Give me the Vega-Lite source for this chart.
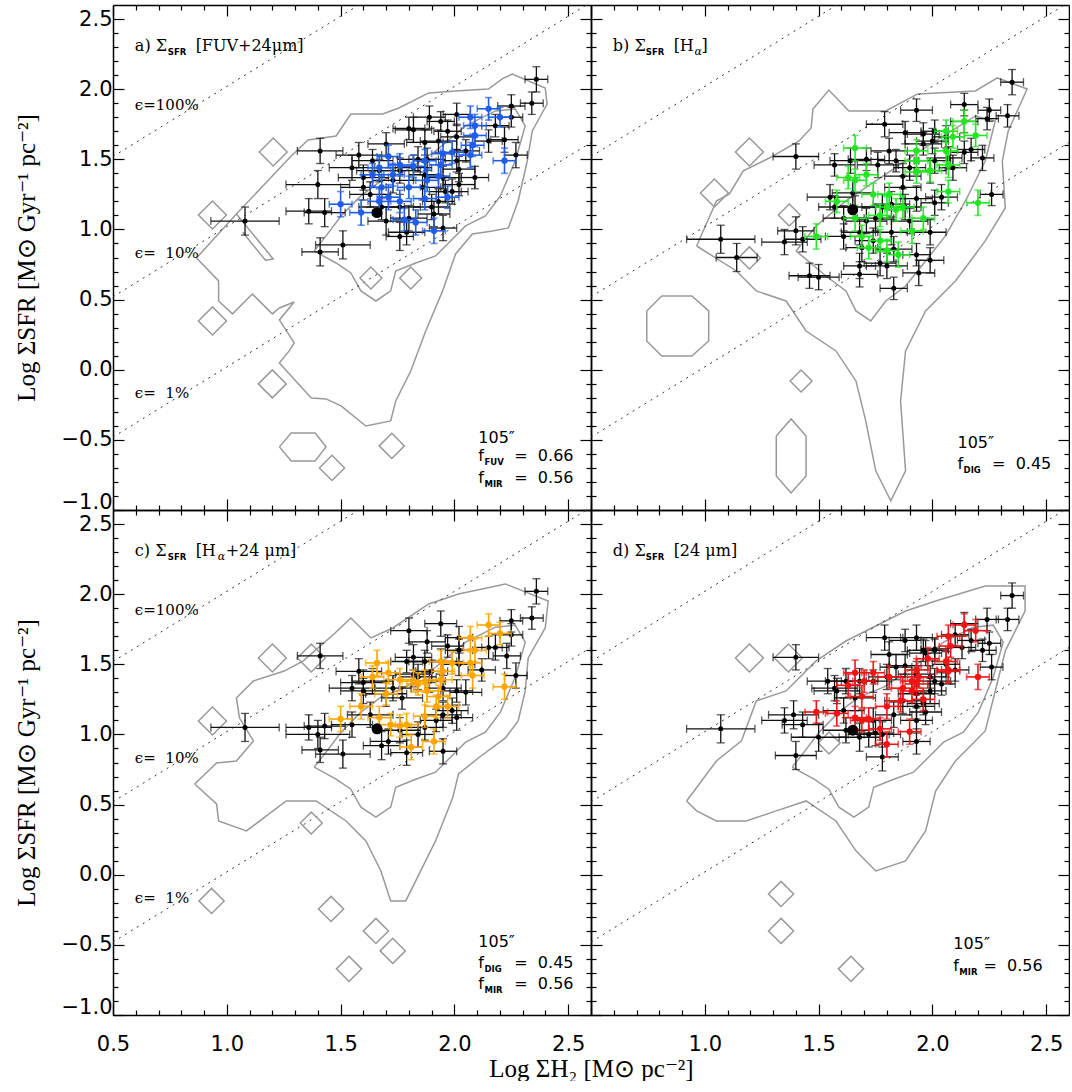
{
"$schema":"https://vega.github.io/schema/vega-lite/v6.json",
"background":"white",
"padding":{"left":14,"top":4,"right":0,"bottom":0},
"columns":2,"spacing":0,"bounds":"flush",
"config":{"view":{"stroke":null},
 "axis":{"grid":false,"tickColor":"black","tickWidth":1.2,"domainColor":"black","domainWidth":1.5,"labelFont":"DejaVu Sans","labelFontSize":21,"labelColor":"black","labelFlush":false,"labelOverlap":false,"labelBound":false,"titleFont":"Liberation Serif","titleFontSize":25,"titleFontWeight":"normal","titleColor":"black"}},
"datasets":{
"eps":[{"l":"100","x":0.5,"y":1.52},{"l":"100","x":2.6,"y":3.62},{"l":"10","x":0.5,"y":0.52},{"l":"10","x":2.6,"y":2.62},{"l":"1","x":0.5,"y":-0.48},{"l":"1","x":2.6,"y":1.62}],
"dm":[
{"p":"a","s":"L","x":0.937,"y":1.103},{"p":"a","s":"L","x":1.204,"y":1.552},{"p":"a","s":"L","x":0.937,"y":0.348},{"p":"a","s":"L","x":1.2,"y":-0.101},{"p":"a","s":"M","x":1.462,"y":-0.7},{"p":"a","s":"M","x":1.725,"y":-0.543},{"p":"a","s":"S","x":1.633,"y":0.654},{"p":"a","s":"S","x":1.808,"y":0.654},
{"p":"b","s":"L","x":1.196,"y":1.552},{"p":"b","s":"L","x":1.042,"y":1.26},{"p":"b","s":"S","x":1.371,"y":1.103},{"p":"b","s":"S","x":1.196,"y":0.797},{"p":"b","s":"S","x":1.423,"y":-0.08},
{"p":"c","s":"L","x":1.2,"y":1.545},{"p":"c","s":"L","x":1.371,"y":1.545},{"p":"c","s":"L","x":0.937,"y":1.096},{"p":"c","s":"M","x":0.933,"y":-0.187},{"p":"c","s":"S","x":1.371,"y":0.369},{"p":"c","s":"M","x":1.458,"y":-0.244},{"p":"c","s":"M","x":1.655,"y":-0.401},{"p":"c","s":"M","x":1.729,"y":-0.543},{"p":"c","s":"M","x":1.537,"y":-0.671},
{"p":"d","s":"L","x":1.196,"y":1.545},{"p":"d","s":"L","x":1.367,"y":1.545},{"p":"d","s":"M","x":1.335,"y":-0.137},{"p":"d","s":"M","x":1.335,"y":-0.401},{"p":"d","s":"M","x":1.642,"y":-0.671},{"p":"d","s":"S","x":1.546,"y":0.939}],
"cont":[
{"p":"a","g":"a1","o":1,"x":0.867,"y":0.797},{"p":"a","g":"a1","o":2,"x":1.042,"y":1.11},{"p":"a","g":"a1","o":3,"x":1.283,"y":1.524},{"p":"a","g":"a1","o":4,"x":1.357,"y":1.638},{"p":"a","g":"a1","o":5,"x":1.48,"y":1.666},{"p":"a","g":"a1","o":6,"x":1.545,"y":1.823},{"p":"a","g":"a1","o":7,"x":1.685,"y":1.823},{"p":"a","g":"a1","o":8,"x":1.756,"y":1.866},{"p":"a","g":"a1","o":9,"x":1.887,"y":1.973},{"p":"a","g":"a1","o":10,"x":2.005,"y":1.987},{"p":"a","g":"a1","o":11,"x":2.149,"y":2.001},{"p":"a","g":"a1","o":12,"x":2.21,"y":2.073},{"p":"a","g":"a1","o":13,"x":2.254,"y":2.108},{"p":"a","g":"a1","o":14,"x":2.399,"y":2.008},{"p":"a","g":"a1","o":15,"x":2.407,"y":1.894},{"p":"a","g":"a1","o":16,"x":2.342,"y":1.702},{"p":"a","g":"a1","o":17,"x":2.32,"y":1.488},{"p":"a","g":"a1","o":18,"x":2.28,"y":1.203},{"p":"a","g":"a1","o":19,"x":2.237,"y":1.011},{"p":"a","g":"a1","o":20,"x":2.167,"y":0.989},{"p":"a","g":"a1","o":21,"x":2.079,"y":0.968},{"p":"a","g":"a1","o":22,"x":2.005,"y":0.825},{"p":"a","g":"a1","o":23,"x":1.948,"y":0.562},{"p":"a","g":"a1","o":24,"x":1.874,"y":0.276},{"p":"a","g":"a1","o":25,"x":1.808,"y":-0.009},{"p":"a","g":"a1","o":26,"x":1.742,"y":-0.223},{"p":"a","g":"a1","o":27,"x":1.72,"y":-0.365},{"p":"a","g":"a1","o":28,"x":1.611,"y":-0.401},{"p":"a","g":"a1","o":29,"x":1.502,"y":-0.258},{"p":"a","g":"a1","o":30,"x":1.436,"y":-0.208},{"p":"a","g":"a1","o":31,"x":1.371,"y":-0.201},{"p":"a","g":"a1","o":32,"x":1.231,"y":0.048},{"p":"a","g":"a1","o":33,"x":1.274,"y":0.134},{"p":"a","g":"a1","o":34,"x":1.296,"y":0.191},{"p":"a","g":"a1","o":35,"x":1.231,"y":0.355},{"p":"a","g":"a1","o":36,"x":1.296,"y":0.483},{"p":"a","g":"a1","o":37,"x":1.231,"y":0.44},{"p":"a","g":"a1","o":38,"x":1.2,"y":0.398},{"p":"a","g":"a1","o":39,"x":1.112,"y":0.54},{"p":"a","g":"a1","o":40,"x":1.025,"y":0.398},{"p":"a","g":"a1","o":41,"x":0.964,"y":0.49},{"p":"a","g":"a1","o":42,"x":0.964,"y":0.633},{"p":"a","g":"a1","o":43,"x":0.867,"y":0.797},
{"p":"a","g":"a2","o":1,"x":1.384,"y":0.847},{"p":"a","g":"a2","o":2,"x":1.436,"y":0.954},{"p":"a","g":"a2","o":3,"x":1.502,"y":1.096},{"p":"a","g":"a2","o":4,"x":1.589,"y":1.239},{"p":"a","g":"a2","o":5,"x":1.677,"y":1.346},{"p":"a","g":"a2","o":6,"x":1.786,"y":1.417},{"p":"a","g":"a2","o":7,"x":1.917,"y":1.559},{"p":"a","g":"a2","o":8,"x":2.049,"y":1.738},{"p":"a","g":"a2","o":9,"x":2.18,"y":1.845},{"p":"a","g":"a2","o":10,"x":2.267,"y":1.859},{"p":"a","g":"a2","o":11,"x":2.311,"y":1.738},{"p":"a","g":"a2","o":12,"x":2.267,"y":1.488},{"p":"a","g":"a2","o":13,"x":2.202,"y":1.239},{"p":"a","g":"a2","o":14,"x":2.136,"y":1.096},{"p":"a","g":"a2","o":15,"x":2.049,"y":1.025},{"p":"a","g":"a2","o":16,"x":1.983,"y":0.918},{"p":"a","g":"a2","o":17,"x":1.917,"y":0.811},{"p":"a","g":"a2","o":18,"x":1.83,"y":0.761},{"p":"a","g":"a2","o":19,"x":1.742,"y":0.704},{"p":"a","g":"a2","o":20,"x":1.72,"y":0.562},{"p":"a","g":"a2","o":21,"x":1.655,"y":0.49},{"p":"a","g":"a2","o":22,"x":1.589,"y":0.562},{"p":"a","g":"a2","o":23,"x":1.545,"y":0.69},{"p":"a","g":"a2","o":24,"x":1.48,"y":0.761},{"p":"a","g":"a2","o":25,"x":1.384,"y":0.847},
{"p":"a","g":"a3","o":1,"x":1.231,"y":-0.55},{"p":"a","g":"a3","o":2,"x":1.283,"y":-0.451},{"p":"a","g":"a3","o":3,"x":1.388,"y":-0.451},{"p":"a","g":"a3","o":4,"x":1.436,"y":-0.55},{"p":"a","g":"a3","o":5,"x":1.388,"y":-0.65},{"p":"a","g":"a3","o":6,"x":1.283,"y":-0.65},{"p":"a","g":"a3","o":7,"x":1.231,"y":-0.55},
{"p":"a","g":"a4","o":1,"x":1.042,"y":1.11},{"p":"a","g":"a4","o":2,"x":1.204,"y":0.79},{"p":"a","g":"a4","o":3,"x":1.17,"y":0.78},{"p":"a","g":"a4","o":4,"x":1.07,"y":0.98},
{"p":"b","g":"b1","o":1,"x":0.964,"y":0.882},{"p":"b","g":"b1","o":2,"x":1.051,"y":1.203},{"p":"b","g":"b1","o":3,"x":1.108,"y":1.253},{"p":"b","g":"b1","o":4,"x":1.169,"y":1.417},{"p":"b","g":"b1","o":5,"x":1.283,"y":1.509},{"p":"b","g":"b1","o":6,"x":1.414,"y":1.631},{"p":"b","g":"b1","o":7,"x":1.467,"y":1.723},{"p":"b","g":"b1","o":8,"x":1.475,"y":1.859},{"p":"b","g":"b1","o":9,"x":1.545,"y":1.994},{"p":"b","g":"b1","o":10,"x":1.633,"y":1.845},{"p":"b","g":"b1","o":11,"x":1.795,"y":1.845},{"p":"b","g":"b1","o":12,"x":1.935,"y":1.966},{"p":"b","g":"b1","o":13,"x":2.189,"y":1.987},{"p":"b","g":"b1","o":14,"x":2.285,"y":2.08},{"p":"b","g":"b1","o":15,"x":2.416,"y":2.001},{"p":"b","g":"b1","o":16,"x":2.333,"y":1.702},{"p":"b","g":"b1","o":17,"x":2.307,"y":1.488},{"p":"b","g":"b1","o":18,"x":2.32,"y":1.153},{"p":"b","g":"b1","o":19,"x":2.232,"y":0.918},{"p":"b","g":"b1","o":20,"x":2.167,"y":0.775},{"p":"b","g":"b1","o":21,"x":2.101,"y":0.633},{"p":"b","g":"b1","o":22,"x":1.97,"y":0.419},{"p":"b","g":"b1","o":23,"x":1.882,"y":0.134},{"p":"b","g":"b1","o":24,"x":1.86,"y":-0.223},{"p":"b","g":"b1","o":25,"x":1.882,"y":-0.721},{"p":"b","g":"b1","o":26,"x":1.817,"y":-0.935},{"p":"b","g":"b1","o":27,"x":1.751,"y":-0.721},{"p":"b","g":"b1","o":28,"x":1.707,"y":-0.365},{"p":"b","g":"b1","o":29,"x":1.664,"y":-0.08},{"p":"b","g":"b1","o":30,"x":1.576,"y":0.134},{"p":"b","g":"b1","o":31,"x":1.445,"y":0.276},{"p":"b","g":"b1","o":32,"x":1.357,"y":0.49},{"p":"b","g":"b1","o":33,"x":1.226,"y":0.562},{"p":"b","g":"b1","o":34,"x":1.139,"y":0.704},{"p":"b","g":"b1","o":35,"x":0.964,"y":0.882},
{"p":"b","g":"b2","o":1,"x":1.401,"y":0.847},{"p":"b","g":"b2","o":2,"x":1.489,"y":1.025},{"p":"b","g":"b2","o":3,"x":1.62,"y":1.203},{"p":"b","g":"b2","o":4,"x":1.751,"y":1.346},{"p":"b","g":"b2","o":5,"x":1.882,"y":1.488},{"p":"b","g":"b2","o":6,"x":2.014,"y":1.631},{"p":"b","g":"b2","o":7,"x":2.189,"y":1.809},{"p":"b","g":"b2","o":8,"x":2.276,"y":1.773},{"p":"b","g":"b2","o":9,"x":2.232,"y":1.488},{"p":"b","g":"b2","o":10,"x":2.145,"y":1.203},{"p":"b","g":"b2","o":11,"x":2.057,"y":0.954},{"p":"b","g":"b2","o":12,"x":1.97,"y":0.775},{"p":"b","g":"b2","o":13,"x":1.882,"y":0.597},{"p":"b","g":"b2","o":14,"x":1.795,"y":0.49},{"p":"b","g":"b2","o":15,"x":1.729,"y":0.348},{"p":"b","g":"b2","o":16,"x":1.664,"y":0.419},{"p":"b","g":"b2","o":17,"x":1.62,"y":0.562},{"p":"b","g":"b2","o":18,"x":1.532,"y":0.668},{"p":"b","g":"b2","o":19,"x":1.401,"y":0.847},
{"p":"b","g":"b3","o":1,"x":0.745,"y":0.419},{"p":"b","g":"b3","o":2,"x":0.811,"y":0.526},{"p":"b","g":"b3","o":3,"x":0.943,"y":0.526},{"p":"b","g":"b3","o":4,"x":1.017,"y":0.419},{"p":"b","g":"b3","o":5,"x":1.017,"y":0.205},{"p":"b","g":"b3","o":6,"x":0.943,"y":0.098},{"p":"b","g":"b3","o":7,"x":0.811,"y":0.098},{"p":"b","g":"b3","o":8,"x":0.745,"y":0.205},{"p":"b","g":"b3","o":9,"x":0.745,"y":0.419},
{"p":"b","g":"b4","o":1,"x":1.314,"y":-0.472},{"p":"b","g":"b4","o":2,"x":1.379,"y":-0.351},{"p":"b","g":"b4","o":3,"x":1.445,"y":-0.472},{"p":"b","g":"b4","o":4,"x":1.445,"y":-0.757},{"p":"b","g":"b4","o":5,"x":1.379,"y":-0.878},{"p":"b","g":"b4","o":6,"x":1.314,"y":-0.757},{"p":"b","g":"b4","o":7,"x":1.314,"y":-0.472},
{"p":"c","g":"c1","o":1,"x":0.859,"y":0.647},{"p":"c","g":"c1","o":2,"x":0.955,"y":0.797},{"p":"c","g":"c1","o":3,"x":1.042,"y":0.811},{"p":"c","g":"c1","o":4,"x":1.117,"y":0.954},{"p":"c","g":"c1","o":5,"x":1.056,"y":1.117},{"p":"c","g":"c1","o":6,"x":1.042,"y":1.26},{"p":"c","g":"c1","o":7,"x":1.117,"y":1.381},{"p":"c","g":"c1","o":8,"x":1.252,"y":1.452},{"p":"c","g":"c1","o":9,"x":1.336,"y":1.524},{"p":"c","g":"c1","o":10,"x":1.471,"y":1.716},{"p":"c","g":"c1","o":11,"x":1.545,"y":1.83},{"p":"c","g":"c1","o":12,"x":1.633,"y":1.688},{"p":"c","g":"c1","o":13,"x":1.729,"y":1.759},{"p":"c","g":"c1","o":14,"x":1.887,"y":1.93},{"p":"c","g":"c1","o":15,"x":2.018,"y":2.001},{"p":"c","g":"c1","o":16,"x":2.224,"y":2.073},{"p":"c","g":"c1","o":17,"x":2.412,"y":1.951},{"p":"c","g":"c1","o":18,"x":2.399,"y":1.759},{"p":"c","g":"c1","o":19,"x":2.324,"y":1.545},{"p":"c","g":"c1","o":20,"x":2.311,"y":1.31},{"p":"c","g":"c1","o":21,"x":2.28,"y":1.096},{"p":"c","g":"c1","o":22,"x":2.224,"y":0.975},{"p":"c","g":"c1","o":23,"x":2.105,"y":0.832},{"p":"c","g":"c1","o":24,"x":2.018,"y":0.718},{"p":"c","g":"c1","o":25,"x":1.992,"y":0.547},{"p":"c","g":"c1","o":26,"x":1.917,"y":0.241},{"p":"c","g":"c1","o":27,"x":1.83,"y":-0.044},{"p":"c","g":"c1","o":28,"x":1.786,"y":-0.187},{"p":"c","g":"c1","o":29,"x":1.72,"y":-0.187},{"p":"c","g":"c1","o":30,"x":1.677,"y":0.027},{"p":"c","g":"c1","o":31,"x":1.611,"y":0.241},{"p":"c","g":"c1","o":32,"x":1.524,"y":0.383},{"p":"c","g":"c1","o":33,"x":1.392,"y":0.526},{"p":"c","g":"c1","o":34,"x":1.261,"y":0.526},{"p":"c","g":"c1","o":35,"x":1.174,"y":0.419},{"p":"c","g":"c1","o":36,"x":1.086,"y":0.312},{"p":"c","g":"c1","o":37,"x":0.964,"y":0.383},{"p":"c","g":"c1","o":38,"x":0.955,"y":0.505},{"p":"c","g":"c1","o":39,"x":0.859,"y":0.647},
{"p":"c","g":"c2","o":1,"x":1.384,"y":0.767},{"p":"c","g":"c2","o":2,"x":1.436,"y":0.874},{"p":"c","g":"c2","o":3,"x":1.502,"y":1.016},{"p":"c","g":"c2","o":4,"x":1.589,"y":1.159},{"p":"c","g":"c2","o":5,"x":1.677,"y":1.266},{"p":"c","g":"c2","o":6,"x":1.786,"y":1.337},{"p":"c","g":"c2","o":7,"x":1.917,"y":1.479},{"p":"c","g":"c2","o":8,"x":2.049,"y":1.658},{"p":"c","g":"c2","o":9,"x":2.18,"y":1.765},{"p":"c","g":"c2","o":10,"x":2.267,"y":1.779},{"p":"c","g":"c2","o":11,"x":2.311,"y":1.658},{"p":"c","g":"c2","o":12,"x":2.267,"y":1.408},{"p":"c","g":"c2","o":13,"x":2.202,"y":1.159},{"p":"c","g":"c2","o":14,"x":2.136,"y":1.016},{"p":"c","g":"c2","o":15,"x":2.049,"y":0.945},{"p":"c","g":"c2","o":16,"x":1.983,"y":0.838},{"p":"c","g":"c2","o":17,"x":1.917,"y":0.731},{"p":"c","g":"c2","o":18,"x":1.83,"y":0.681},{"p":"c","g":"c2","o":19,"x":1.742,"y":0.624},{"p":"c","g":"c2","o":20,"x":1.72,"y":0.482},{"p":"c","g":"c2","o":21,"x":1.655,"y":0.41},{"p":"c","g":"c2","o":22,"x":1.589,"y":0.482},{"p":"c","g":"c2","o":23,"x":1.545,"y":0.61},{"p":"c","g":"c2","o":24,"x":1.48,"y":0.681},{"p":"c","g":"c2","o":25,"x":1.384,"y":0.767},
{"p":"d","g":"d1","o":1,"x":0.92,"y":0.526},{"p":"d","g":"d1","o":2,"x":1.051,"y":0.811},{"p":"d","g":"d1","o":3,"x":1.161,"y":0.954},{"p":"d","g":"d1","o":4,"x":1.226,"y":1.239},{"p":"d","g":"d1","o":5,"x":1.357,"y":1.31},{"p":"d","g":"d1","o":6,"x":1.489,"y":1.524},{"p":"d","g":"d1","o":7,"x":1.62,"y":1.666},{"p":"d","g":"d1","o":8,"x":1.751,"y":1.773},{"p":"d","g":"d1","o":9,"x":1.882,"y":1.88},{"p":"d","g":"d1","o":10,"x":2.014,"y":1.951},{"p":"d","g":"d1","o":11,"x":2.232,"y":2.058},{"p":"d","g":"d1","o":12,"x":2.407,"y":2.058},{"p":"d","g":"d1","o":13,"x":2.407,"y":1.88},{"p":"d","g":"d1","o":14,"x":2.32,"y":1.595},{"p":"d","g":"d1","o":15,"x":2.276,"y":1.31},{"p":"d","g":"d1","o":16,"x":2.232,"y":1.025},{"p":"d","g":"d1","o":17,"x":2.101,"y":0.811},{"p":"d","g":"d1","o":18,"x":2.014,"y":0.597},{"p":"d","g":"d1","o":19,"x":1.97,"y":0.312},{"p":"d","g":"d1","o":20,"x":1.882,"y":0.098},{"p":"d","g":"d1","o":21,"x":1.751,"y":0.027},{"p":"d","g":"d1","o":22,"x":1.664,"y":0.17},{"p":"d","g":"d1","o":23,"x":1.576,"y":0.383},{"p":"d","g":"d1","o":24,"x":1.445,"y":0.526},{"p":"d","g":"d1","o":25,"x":1.314,"y":0.455},{"p":"d","g":"d1","o":26,"x":1.182,"y":0.383},{"p":"d","g":"d1","o":27,"x":1.051,"y":0.383},{"p":"d","g":"d1","o":28,"x":0.964,"y":0.455},{"p":"d","g":"d1","o":29,"x":0.92,"y":0.526},
{"p":"d","g":"d2","o":1,"x":1.384,"y":0.767},{"p":"d","g":"d2","o":2,"x":1.436,"y":0.874},{"p":"d","g":"d2","o":3,"x":1.502,"y":1.016},{"p":"d","g":"d2","o":4,"x":1.589,"y":1.159},{"p":"d","g":"d2","o":5,"x":1.677,"y":1.266},{"p":"d","g":"d2","o":6,"x":1.786,"y":1.337},{"p":"d","g":"d2","o":7,"x":1.917,"y":1.479},{"p":"d","g":"d2","o":8,"x":2.049,"y":1.658},{"p":"d","g":"d2","o":9,"x":2.18,"y":1.765},{"p":"d","g":"d2","o":10,"x":2.267,"y":1.779},{"p":"d","g":"d2","o":11,"x":2.311,"y":1.658},{"p":"d","g":"d2","o":12,"x":2.267,"y":1.408},{"p":"d","g":"d2","o":13,"x":2.202,"y":1.159},{"p":"d","g":"d2","o":14,"x":2.136,"y":1.016},{"p":"d","g":"d2","o":15,"x":2.049,"y":0.945},{"p":"d","g":"d2","o":16,"x":1.983,"y":0.838},{"p":"d","g":"d2","o":17,"x":1.917,"y":0.731},{"p":"d","g":"d2","o":18,"x":1.83,"y":0.681},{"p":"d","g":"d2","o":19,"x":1.742,"y":0.624},{"p":"d","g":"d2","o":20,"x":1.72,"y":0.482},{"p":"d","g":"d2","o":21,"x":1.655,"y":0.41},{"p":"d","g":"d2","o":22,"x":1.589,"y":0.482},{"p":"d","g":"d2","o":23,"x":1.545,"y":0.61},{"p":"d","g":"d2","o":24,"x":1.48,"y":0.681},{"p":"d","g":"d2","o":25,"x":1.384,"y":0.767}],
"txt":[
{"p":"a","t":"m","x":0.596,"y":2.272,"s":"a) Σ"},{"p":"a","t":"u","x":0.741,"y":2.272,"s":"SFR"},{"p":"a","t":"m","x":0.863,"y":2.272,"s":"[FUV+24μm]"},
{"p":"a","t":"e","x":0.596,"y":1.85,"s":"ϵ=100%"},{"p":"a","t":"e","x":0.596,"y":0.8,"s":"ϵ=\u00a0\u00a010%"},{"p":"a","t":"e","x":0.596,"y":-0.2,"s":"ϵ=\u00a0\u00a01%"},
{"p":"a","t":"n","x":2.105,"y":-0.52,"s":"105″"},{"p":"a","t":"n","x":2.105,"y":-0.65,"s":"f"},{"p":"a","t":"u","x":2.132,"y":-0.65,"s":"FUV"},{"p":"a","t":"n","x":2.263,"y":-0.65,"s":"=\u00a0\u00a00.66"},{"p":"a","t":"n","x":2.105,"y":-0.805,"s":"f"},{"p":"a","t":"u","x":2.132,"y":-0.805,"s":"MIR"},{"p":"a","t":"n","x":2.263,"y":-0.805,"s":"=\u00a0\u00a00.56"},
{"p":"b","t":"m","x":0.596,"y":2.272,"s":"b) Σ"},{"p":"b","t":"u","x":0.741,"y":2.272,"s":"SFR"},{"p":"b","t":"m","x":0.863,"y":2.272,"s":"[H"},{"p":"b","t":"g","x":0.955,"y":2.272,"s":"α"},{"p":"b","t":"m","x":0.985,"y":2.272,"s":"]"},
{"p":"b","t":"n","x":2.11,"y":-0.555,"s":"105″"},{"p":"b","t":"n","x":2.11,"y":-0.705,"s":"f"},{"p":"b","t":"u","x":2.137,"y":-0.705,"s":"DIG"},{"p":"b","t":"n","x":2.262,"y":-0.705,"s":"=\u00a0\u00a00.45"},
{"p":"c","t":"m","x":0.596,"y":2.272,"s":"c) Σ"},{"p":"c","t":"u","x":0.741,"y":2.272,"s":"SFR"},{"p":"c","t":"m","x":0.863,"y":2.272,"s":"[H"},{"p":"c","t":"g","x":0.96,"y":2.272,"s":"α"},{"p":"c","t":"m","x":0.995,"y":2.272,"s":"+24 μm]"},
{"p":"c","t":"e","x":0.596,"y":1.85,"s":"ϵ=100%"},{"p":"c","t":"e","x":0.596,"y":0.8,"s":"ϵ=\u00a0\u00a010%"},{"p":"c","t":"e","x":0.596,"y":-0.2,"s":"ϵ=\u00a0\u00a01%"},
{"p":"c","t":"n","x":2.105,"y":-0.515,"s":"105″"},{"p":"c","t":"n","x":2.105,"y":-0.665,"s":"f"},{"p":"c","t":"u","x":2.132,"y":-0.665,"s":"DIG"},{"p":"c","t":"n","x":2.263,"y":-0.665,"s":"=\u00a0\u00a00.45"},{"p":"c","t":"n","x":2.105,"y":-0.815,"s":"f"},{"p":"c","t":"u","x":2.132,"y":-0.815,"s":"MIR"},{"p":"c","t":"n","x":2.263,"y":-0.815,"s":"=\u00a0\u00a00.56"},
{"p":"d","t":"m","x":0.596,"y":2.272,"s":"d) Σ"},{"p":"d","t":"u","x":0.741,"y":2.272,"s":"SFR"},{"p":"d","t":"m","x":0.863,"y":2.272,"s":"[24 μm]"},
{"p":"d","t":"n","x":2.092,"y":-0.529,"s":"105″"},{"p":"d","t":"n","x":2.092,"y":-0.686,"s":"f"},{"p":"d","t":"u","x":2.118,"y":-0.686,"s":"MIR"},{"p":"d","t":"n","x":2.224,"y":-0.686,"s":"=\u00a0\u00a00.56"}],
"pts":[
{"p":"a","k":"b","x":2.36,"y":2.07,"ex":0.05,"ey":0.09},{"p":"a","k":"b","x":2.34,"y":1.9,"ex":0.05,"ey":0.08},{"p":"a","k":"b","x":2.25,"y":1.88,"ex":0.06,"ey":0.08},{"p":"a","k":"b","x":2.25,"y":1.8,"ex":0.05,"ey":0.07},{"p":"a","k":"b","x":2.18,"y":1.74,"ex":0.06,"ey":0.08},{"p":"a","k":"b","x":2.22,"y":1.64,"ex":0.06,"ey":0.09},{"p":"a","k":"b","x":2.27,"y":1.53,"ex":0.05,"ey":0.09},{"p":"a","k":"b","x":2.15,"y":1.63,"ex":0.06,"ey":0.08},{"p":"a","k":"b","x":2.01,"y":1.82,"ex":0.06,"ey":0.08},{"p":"a","k":"b","x":1.89,"y":1.8,"ex":0.07,"ey":0.08},{"p":"a","k":"b","x":1.94,"y":1.77,"ex":0.06,"ey":0.07},{"p":"a","k":"b","x":1.82,"y":1.71,"ex":0.08,"ey":0.09},{"p":"a","k":"b","x":1.8,"y":1.72,"ex":0.07,"ey":0.08},{"p":"a","k":"b","x":1.7,"y":1.61,"ex":0.08,"ey":0.08},{"p":"a","k":"b","x":1.58,"y":1.53,"ex":0.1,"ey":0.09},{"p":"a","k":"b","x":1.55,"y":1.44,"ex":0.1,"ey":0.09},{"p":"a","k":"b","x":1.41,"y":1.56,"ex":0.1,"ey":0.09},{"p":"a","k":"b","x":1.4,"y":1.32,"ex":0.14,"ey":0.1},{"p":"a","k":"b","x":1.36,"y":1.13,"ex":0.1,"ey":0.09},{"p":"a","k":"b","x":1.43,"y":1.12,"ex":0.09,"ey":0.1},{"p":"a","k":"b","x":1.08,"y":1.06,"ex":0.15,"ey":0.1},{"p":"a","k":"b","x":1.51,"y":0.89,"ex":0.12,"ey":0.1},{"p":"a","k":"b","x":1.41,"y":0.84,"ex":0.08,"ey":0.1},{"p":"a","k":"b","x":1.76,"y":0.95,"ex":0.06,"ey":0.1},{"p":"a","k":"b","x":1.79,"y":0.98,"ex":0.08,"ey":0.09},{"p":"a","k":"b","x":1.91,"y":1.11,"ex":0.07,"ey":0.09},{"p":"a","k":"b","x":1.95,"y":1.01,"ex":0.06,"ey":0.09},{"p":"a","k":"b","x":1.88,"y":1.5,"ex":0.08,"ey":0.08},{"p":"a","k":"b","x":1.84,"y":1.5,"ex":0.09,"ey":0.09},{"p":"a","k":"b","x":2.01,"y":1.49,"ex":0.06,"ey":0.08},{"p":"a","k":"b","x":2.02,"y":1.43,"ex":0.07,"ey":0.09},{"p":"a","k":"b","x":1.97,"y":1.7,"ex":0.06,"ey":0.08},{"p":"a","k":"b","x":2.01,"y":1.66,"ex":0.07,"ey":0.09},{"p":"a","k":"b","x":1.93,"y":1.63,"ex":0.08,"ey":0.08},{"p":"a","k":"b","x":1.87,"y":1.62,"ex":0.08,"ey":0.09},{"p":"a","k":"b","x":1.76,"y":1.42,"ex":0.09,"ey":0.09},{"p":"a","k":"b","x":1.73,"y":1.35,"ex":0.09,"ey":0.09},{"p":"a","k":"b","x":1.67,"y":1.42,"ex":0.1,"ey":0.08},{"p":"a","k":"b","x":1.63,"y":1.25,"ex":0.09,"ey":0.09},{"p":"a","k":"b","x":1.6,"y":1.37,"ex":0.11,"ey":0.09},{"p":"a","k":"b","x":1.64,"y":1.49,"ex":0.09,"ey":0.08},{"p":"a","k":"b","x":1.82,"y":1.44,"ex":0.08,"ey":0.09},{"p":"a","k":"b","x":1.87,"y":1.39,"ex":0.07,"ey":0.09},{"p":"a","k":"b","x":1.95,"y":1.37,"ex":0.08,"ey":0.08},{"p":"a","k":"b","x":1.99,"y":1.27,"ex":0.07,"ey":0.09},{"p":"a","k":"b","x":1.93,"y":1.2,"ex":0.07,"ey":0.09},{"p":"a","k":"b","x":1.9,"y":1.16,"ex":0.08,"ey":0.09},{"p":"a","k":"b","x":1.76,"y":1.16,"ex":0.09,"ey":0.09},{"p":"a","k":"b","x":1.7,"y":1.06,"ex":0.08,"ey":0.1},{"p":"a","k":"b","x":1.68,"y":1.16,"ex":0.1,"ey":0.09},{"p":"a","k":"b","x":1.8,"y":1.08,"ex":0.08,"ey":0.09},{"p":"a","k":"b","x":2.02,"y":1.32,"ex":0.07,"ey":0.08},{"p":"a","k":"b","x":2.09,"y":1.37,"ex":0.06,"ey":0.08},{"p":"a","k":"b","x":2.05,"y":1.56,"ex":0.06,"ey":0.08},{"p":"a","k":"b","x":1.96,"y":1.27,"ex":0.07,"ey":0.08},{"p":"a","k":"b","x":1.6,"y":1.3,"ex":0.1,"ey":0.09},{"p":"a","k":"b","x":1.86,"y":1.3,"ex":0.08,"ey":0.09},
{"p":"a","k":"c","x":2.15,"y":1.86,"ex":0.05,"ey":0.08},{"p":"a","k":"c","x":2.2,"y":1.8,"ex":0.05,"ey":0.07},{"p":"a","k":"c","x":2.07,"y":1.8,"ex":0.05,"ey":0.08},{"p":"a","k":"c","x":2.09,"y":1.74,"ex":0.05,"ey":0.08},{"p":"a","k":"c","x":2.09,"y":1.67,"ex":0.05,"ey":0.08},{"p":"a","k":"c","x":2.08,"y":1.6,"ex":0.05,"ey":0.08},{"p":"a","k":"c","x":2.07,"y":1.53,"ex":0.05,"ey":0.09},{"p":"a","k":"c","x":2.22,"y":1.49,"ex":0.05,"ey":0.09},{"p":"a","k":"c","x":1.95,"y":1.54,"ex":0.05,"ey":0.08},{"p":"a","k":"c","x":1.94,"y":1.46,"ex":0.05,"ey":0.09},{"p":"a","k":"c","x":1.93,"y":1.38,"ex":0.05,"ey":0.08},{"p":"a","k":"c","x":1.88,"y":1.35,"ex":0.05,"ey":0.08},{"p":"a","k":"c","x":1.82,"y":1.45,"ex":0.05,"ey":0.08},{"p":"a","k":"c","x":1.76,"y":1.46,"ex":0.05,"ey":0.08},{"p":"a","k":"c","x":1.71,"y":1.52,"ex":0.05,"ey":0.08},{"p":"a","k":"c","x":1.67,"y":1.44,"ex":0.05,"ey":0.09},{"p":"a","k":"c","x":1.64,"y":1.39,"ex":0.05,"ey":0.08},{"p":"a","k":"c","x":1.68,"y":1.3,"ex":0.05,"ey":0.08},{"p":"a","k":"c","x":1.71,"y":1.23,"ex":0.05,"ey":0.09},{"p":"a","k":"c","x":1.8,"y":1.3,"ex":0.05,"ey":0.08},{"p":"a","k":"c","x":1.87,"y":1.22,"ex":0.05,"ey":0.08},{"p":"a","k":"c","x":1.97,"y":1.23,"ex":0.05,"ey":0.08},{"p":"a","k":"c","x":1.67,"y":1.2,"ex":0.05,"ey":0.09},{"p":"a","k":"c","x":1.59,"y":1.12,"ex":0.05,"ey":0.09},{"p":"a","k":"c","x":1.5,"y":1.18,"ex":0.05,"ey":0.09},{"p":"a","k":"c","x":1.78,"y":1.07,"ex":0.05,"ey":0.08},{"p":"a","k":"c","x":1.83,"y":1.05,"ex":0.05,"ey":0.09},{"p":"a","k":"c","x":1.91,"y":0.99,"ex":0.05,"ey":0.09},{"p":"a","k":"c","x":1.76,"y":1.2,"ex":0.05,"ey":0.08},{"p":"a","k":"c","x":1.87,"y":1.49,"ex":0.05,"ey":0.08},{"p":"a","k":"c","x":1.99,"y":1.55,"ex":0.05,"ey":0.08},{"p":"a","k":"c","x":1.73,"y":1.39,"ex":0.05,"ey":0.08},
{"p":"a","k":"d","x":1.66,"y":1.12,"ex":0,"ey":0},
{"p":"b","k":"b","x":2.35,"y":2.05,"ex":0.05,"ey":0.09},{"p":"b","k":"b","x":2.33,"y":1.81,"ex":0.05,"ey":0.08},{"p":"b","k":"b","x":2.24,"y":1.79,"ex":0.05,"ey":0.08},{"p":"b","k":"b","x":2.25,"y":1.85,"ex":0.05,"ey":0.08},{"p":"b","k":"b","x":2.14,"y":1.89,"ex":0.06,"ey":0.08},{"p":"b","k":"b","x":1.93,"y":1.85,"ex":0.07,"ey":0.08},{"p":"b","k":"b","x":1.79,"y":1.75,"ex":0.08,"ey":0.09},{"p":"b","k":"b","x":1.88,"y":1.69,"ex":0.07,"ey":0.08},{"p":"b","k":"b","x":1.81,"y":1.56,"ex":0.08,"ey":0.09},{"p":"b","k":"b","x":1.4,"y":1.52,"ex":0.1,"ey":0.09},{"p":"b","k":"b","x":1.07,"y":0.93,"ex":0.15,"ey":0.1},{"p":"b","k":"b","x":1.14,"y":0.8,"ex":0.09,"ey":0.1},{"p":"b","k":"b","x":1.35,"y":0.91,"ex":0.1,"ey":0.09},{"p":"b","k":"b","x":1.4,"y":0.99,"ex":0.08,"ey":0.1},{"p":"b","k":"b","x":1.43,"y":0.93,"ex":0.08,"ey":0.09},{"p":"b","k":"b","x":1.57,"y":1.16,"ex":0.07,"ey":0.08},{"p":"b","k":"b","x":1.61,"y":0.95,"ex":0.08,"ey":0.09},{"p":"b","k":"b","x":1.57,"y":1.46,"ex":0.09,"ey":0.08},{"p":"b","k":"b","x":1.64,"y":1.49,"ex":0.09,"ey":0.09},{"p":"b","k":"b","x":1.71,"y":1.5,"ex":0.08,"ey":0.08},{"p":"b","k":"b","x":1.76,"y":1.46,"ex":0.09,"ey":0.09},{"p":"b","k":"b","x":1.84,"y":1.49,"ex":0.08,"ey":0.08},{"p":"b","k":"b","x":1.9,"y":1.44,"ex":0.07,"ey":0.09},{"p":"b","k":"b","x":1.96,"y":1.68,"ex":0.07,"ey":0.08},{"p":"b","k":"b","x":2.01,"y":1.7,"ex":0.06,"ey":0.08},{"p":"b","k":"b","x":2,"y":1.63,"ex":0.07,"ey":0.09},{"p":"b","k":"b","x":1.96,"y":1.61,"ex":0.08,"ey":0.08},{"p":"b","k":"b","x":2.01,"y":1.49,"ex":0.07,"ey":0.09},{"p":"b","k":"b","x":2.07,"y":1.51,"ex":0.06,"ey":0.08},{"p":"b","k":"b","x":2.14,"y":1.55,"ex":0.06,"ey":0.08},{"p":"b","k":"b","x":2.22,"y":1.51,"ex":0.05,"ey":0.09},{"p":"b","k":"b","x":2.26,"y":1.25,"ex":0.05,"ey":0.08},{"p":"b","k":"b","x":2.04,"y":1.23,"ex":0.07,"ey":0.09},{"p":"b","k":"b","x":2.01,"y":1.19,"ex":0.06,"ey":0.09},{"p":"b","k":"b","x":1.93,"y":1.22,"ex":0.07,"ey":0.09},{"p":"b","k":"b","x":1.87,"y":1.3,"ex":0.08,"ey":0.08},{"p":"b","k":"b","x":1.88,"y":1.16,"ex":0.07,"ey":0.09},{"p":"b","k":"b","x":1.82,"y":1.18,"ex":0.08,"ey":0.09},{"p":"b","k":"b","x":1.75,"y":1.08,"ex":0.08,"ey":0.09},{"p":"b","k":"b","x":1.71,"y":1.06,"ex":0.09,"ey":0.09},{"p":"b","k":"b","x":1.68,"y":0.98,"ex":0.08,"ey":0.09},{"p":"b","k":"b","x":1.69,"y":0.87,"ex":0.07,"ey":0.1},{"p":"b","k":"b","x":1.74,"y":0.92,"ex":0.08,"ey":0.09},{"p":"b","k":"b","x":1.82,"y":0.98,"ex":0.07,"ey":0.09},{"p":"b","k":"b","x":1.83,"y":0.86,"ex":0.08,"ey":0.09},{"p":"b","k":"b","x":1.77,"y":0.76,"ex":0.07,"ey":0.09},{"p":"b","k":"b","x":1.8,"y":0.74,"ex":0.09,"ey":0.09},{"p":"b","k":"b","x":1.68,"y":0.74,"ex":0.07,"ey":0.09},{"p":"b","k":"b","x":1.68,"y":0.68,"ex":0.08,"ey":0.09},{"p":"b","k":"b","x":1.46,"y":0.67,"ex":0.09,"ey":0.09},{"p":"b","k":"b","x":1.5,"y":0.66,"ex":0.09,"ey":0.09},{"p":"b","k":"b","x":1.83,"y":0.58,"ex":0.06,"ey":0.08},{"p":"b","k":"b","x":1.94,"y":0.69,"ex":0.07,"ey":0.09},{"p":"b","k":"b","x":1.99,"y":0.78,"ex":0.06,"ey":0.09},{"p":"b","k":"b","x":1.93,"y":0.82,"ex":0.06,"ey":0.08},{"p":"b","k":"b","x":1.99,"y":0.98,"ex":0.07,"ey":0.09},{"p":"b","k":"b","x":1.9,"y":1.06,"ex":0.08,"ey":0.09},{"p":"b","k":"b","x":1.78,"y":1.16,"ex":0.09,"ey":0.09},{"p":"b","k":"b","x":1.66,"y":1.16,"ex":0.09,"ey":0.08},{"p":"b","k":"b","x":1.61,"y":1.08,"ex":0.09,"ey":0.09},{"p":"b","k":"b","x":1.55,"y":1.23,"ex":0.1,"ey":0.09},{"p":"b","k":"b","x":1.65,"y":1.26,"ex":0.09,"ey":0.09},{"p":"b","k":"b","x":1.87,"y":1.38,"ex":0.08,"ey":0.09},{"p":"b","k":"b","x":1.99,"y":1.42,"ex":0.07,"ey":0.09},{"p":"b","k":"b","x":2.09,"y":1.44,"ex":0.06,"ey":0.09},{"p":"b","k":"b","x":2.17,"y":1.57,"ex":0.06,"ey":0.08},{"p":"b","k":"b","x":2.06,"y":1.66,"ex":0.06,"ey":0.08},{"p":"b","k":"b","x":2.14,"y":1.77,"ex":0.06,"ey":0.08},
{"p":"b","k":"c","x":2.14,"y":1.77,"ex":0.05,"ey":0.08},{"p":"b","k":"c","x":2.19,"y":1.67,"ex":0.05,"ey":0.08},{"p":"b","k":"c","x":2.06,"y":1.7,"ex":0.05,"ey":0.08},{"p":"b","k":"c","x":2.09,"y":1.66,"ex":0.05,"ey":0.08},{"p":"b","k":"c","x":1.93,"y":1.56,"ex":0.05,"ey":0.08},{"p":"b","k":"c","x":2.06,"y":1.56,"ex":0.05,"ey":0.08},{"p":"b","k":"c","x":2.07,"y":1.46,"ex":0.05,"ey":0.09},{"p":"b","k":"c","x":1.99,"y":1.42,"ex":0.05,"ey":0.08},{"p":"b","k":"c","x":1.93,"y":1.41,"ex":0.05,"ey":0.08},{"p":"b","k":"c","x":2.07,"y":1.27,"ex":0.05,"ey":0.08},{"p":"b","k":"c","x":2.2,"y":1.19,"ex":0.05,"ey":0.09},{"p":"b","k":"c","x":1.96,"y":1.08,"ex":0.05,"ey":0.08},{"p":"b","k":"c","x":1.91,"y":0.99,"ex":0.05,"ey":0.09},{"p":"b","k":"c","x":1.85,"y":0.82,"ex":0.05,"ey":0.09},{"p":"b","k":"c","x":1.8,"y":0.85,"ex":0.05,"ey":0.08},{"p":"b","k":"c","x":1.77,"y":0.92,"ex":0.05,"ey":0.08},{"p":"b","k":"c","x":1.72,"y":0.87,"ex":0.05,"ey":0.08},{"p":"b","k":"c","x":1.69,"y":0.95,"ex":0.05,"ey":0.08},{"p":"b","k":"c","x":1.66,"y":1.08,"ex":0.05,"ey":0.09},{"p":"b","k":"c","x":1.77,"y":1.1,"ex":0.05,"ey":0.08},{"p":"b","k":"c","x":1.81,"y":1.25,"ex":0.05,"ey":0.08},{"p":"b","k":"c","x":1.74,"y":1.25,"ex":0.05,"ey":0.08},{"p":"b","k":"c","x":1.84,"y":1.14,"ex":0.05,"ey":0.08},{"p":"b","k":"c","x":1.87,"y":1.16,"ex":0.05,"ey":0.08},{"p":"b","k":"c","x":1.71,"y":1.39,"ex":0.05,"ey":0.08},{"p":"b","k":"c","x":1.66,"y":1.35,"ex":0.05,"ey":0.08},{"p":"b","k":"c","x":1.63,"y":1.37,"ex":0.05,"ey":0.08},{"p":"b","k":"c","x":1.58,"y":1.2,"ex":0.05,"ey":0.08},{"p":"b","k":"c","x":1.49,"y":0.95,"ex":0.05,"ey":0.09},{"p":"b","k":"c","x":1.66,"y":1.58,"ex":0.05,"ey":0.09},{"p":"b","k":"c","x":1.8,"y":1.16,"ex":0.05,"ey":0.08},{"p":"b","k":"c","x":1.93,"y":1.49,"ex":0.05,"ey":0.08},
{"p":"b","k":"d","x":1.65,"y":1.14,"ex":0,"ey":0},
{"p":"c","k":"b","x":2.36,"y":2.02,"ex":0.05,"ey":0.09},{"p":"c","k":"b","x":2.34,"y":1.83,"ex":0.05,"ey":0.08},{"p":"c","k":"b","x":2.25,"y":1.81,"ex":0.05,"ey":0.08},{"p":"c","k":"b","x":2.25,"y":1.71,"ex":0.05,"ey":0.08},{"p":"c","k":"b","x":2.23,"y":1.56,"ex":0.06,"ey":0.09},{"p":"c","k":"b","x":2.27,"y":1.42,"ex":0.05,"ey":0.09},{"p":"c","k":"b","x":1.94,"y":1.79,"ex":0.07,"ey":0.09},{"p":"c","k":"b","x":1.8,"y":1.74,"ex":0.08,"ey":0.09},{"p":"c","k":"b","x":1.88,"y":1.66,"ex":0.08,"ey":0.08},{"p":"c","k":"b","x":1.97,"y":1.63,"ex":0.07,"ey":0.08},{"p":"c","k":"b","x":2.02,"y":1.6,"ex":0.06,"ey":0.08},{"p":"c","k":"b","x":1.94,"y":1.52,"ex":0.07,"ey":0.09},{"p":"c","k":"b","x":1.87,"y":1.52,"ex":0.07,"ey":0.08},{"p":"c","k":"b","x":1.82,"y":1.55,"ex":0.08,"ey":0.09},{"p":"c","k":"b","x":1.79,"y":1.52,"ex":0.07,"ey":0.08},{"p":"c","k":"b","x":1.58,"y":1.45,"ex":0.1,"ey":0.09},{"p":"c","k":"b","x":1.55,"y":1.33,"ex":0.1,"ey":0.09},{"p":"c","k":"b","x":1.41,"y":1.56,"ex":0.1,"ey":0.09},{"p":"c","k":"b","x":1.08,"y":1.05,"ex":0.15,"ey":0.1},{"p":"c","k":"b","x":1.36,"y":1.05,"ex":0.1,"ey":0.09},{"p":"c","k":"b","x":1.4,"y":1,"ex":0.14,"ey":0.1},{"p":"c","k":"b","x":1.43,"y":1.06,"ex":0.09,"ey":0.09},{"p":"c","k":"b","x":1.41,"y":0.89,"ex":0.08,"ey":0.09},{"p":"c","k":"b","x":1.51,"y":0.86,"ex":0.12,"ey":0.1},{"p":"c","k":"b","x":1.6,"y":1.37,"ex":0.1,"ey":0.09},{"p":"c","k":"b","x":1.64,"y":1.38,"ex":0.09,"ey":0.09},{"p":"c","k":"b","x":1.7,"y":1.29,"ex":0.09,"ey":0.09},{"p":"c","k":"b","x":1.73,"y":1.33,"ex":0.08,"ey":0.09},{"p":"c","k":"b","x":1.77,"y":1.26,"ex":0.09,"ey":0.08},{"p":"c","k":"b","x":1.84,"y":1.41,"ex":0.08,"ey":0.09},{"p":"c","k":"b","x":1.89,"y":1.38,"ex":0.07,"ey":0.08},{"p":"c","k":"b","x":1.95,"y":1.33,"ex":0.08,"ey":0.09},{"p":"c","k":"b","x":2.01,"y":1.31,"ex":0.07,"ey":0.08},{"p":"c","k":"b","x":2.05,"y":1.3,"ex":0.07,"ey":0.09},{"p":"c","k":"b","x":1.99,"y":1.17,"ex":0.07,"ey":0.09},{"p":"c","k":"b","x":1.95,"y":1.14,"ex":0.08,"ey":0.09},{"p":"c","k":"b","x":1.92,"y":1.1,"ex":0.07,"ey":0.08},{"p":"c","k":"b","x":1.87,"y":1.05,"ex":0.08,"ey":0.09},{"p":"c","k":"b","x":1.84,"y":1,"ex":0.07,"ey":0.09},{"p":"c","k":"b","x":1.76,"y":1.03,"ex":0.09,"ey":0.09},{"p":"c","k":"b","x":1.68,"y":0.92,"ex":0.08,"ey":0.1},{"p":"c","k":"b","x":1.71,"y":0.95,"ex":0.08,"ey":0.09},{"p":"c","k":"b","x":1.79,"y":0.87,"ex":0.07,"ey":0.09},{"p":"c","k":"b","x":1.95,"y":0.88,"ex":0.06,"ey":0.09},{"p":"c","k":"b","x":2.01,"y":1.12,"ex":0.07,"ey":0.09},{"p":"c","k":"b","x":1.63,"y":1.14,"ex":0.1,"ey":0.09},{"p":"c","k":"b","x":1.55,"y":1.07,"ex":0.09,"ey":0.09},{"p":"c","k":"b","x":1.6,"y":1.31,"ex":0.1,"ey":0.09},{"p":"c","k":"b","x":2.02,"y":1.5,"ex":0.07,"ey":0.08},{"p":"c","k":"b","x":2.12,"y":1.46,"ex":0.06,"ey":0.08},{"p":"c","k":"b","x":2.15,"y":1.62,"ex":0.06,"ey":0.08},{"p":"c","k":"b","x":2.18,"y":1.62,"ex":0.06,"ey":0.09},{"p":"c","k":"b","x":2.02,"y":1.69,"ex":0.06,"ey":0.08},{"p":"c","k":"b","x":1.82,"y":1.43,"ex":0.08,"ey":0.09},{"p":"c","k":"b","x":1.9,"y":1.45,"ex":0.07,"ey":0.08},
{"p":"c","k":"c","x":2.15,"y":1.78,"ex":0.05,"ey":0.08},{"p":"c","k":"c","x":2.2,"y":1.72,"ex":0.05,"ey":0.08},{"p":"c","k":"c","x":2.07,"y":1.69,"ex":0.05,"ey":0.08},{"p":"c","k":"c","x":2.09,"y":1.6,"ex":0.05,"ey":0.08},{"p":"c","k":"c","x":2.07,"y":1.51,"ex":0.05,"ey":0.08},{"p":"c","k":"c","x":2.08,"y":1.42,"ex":0.05,"ey":0.09},{"p":"c","k":"c","x":1.99,"y":1.51,"ex":0.05,"ey":0.08},{"p":"c","k":"c","x":1.94,"y":1.52,"ex":0.05,"ey":0.08},{"p":"c","k":"c","x":1.95,"y":1.45,"ex":0.05,"ey":0.08},{"p":"c","k":"c","x":1.94,"y":1.39,"ex":0.05,"ey":0.08},{"p":"c","k":"c","x":1.88,"y":1.31,"ex":0.05,"ey":0.08},{"p":"c","k":"c","x":1.93,"y":1.27,"ex":0.05,"ey":0.08},{"p":"c","k":"c","x":1.92,"y":1.2,"ex":0.05,"ey":0.08},{"p":"c","k":"c","x":1.97,"y":1.2,"ex":0.05,"ey":0.08},{"p":"c","k":"c","x":1.87,"y":1.13,"ex":0.05,"ey":0.08},{"p":"c","k":"c","x":1.91,"y":0.95,"ex":0.05,"ey":0.09},{"p":"c","k":"c","x":1.81,"y":0.91,"ex":0.05,"ey":0.09},{"p":"c","k":"c","x":1.79,"y":1.07,"ex":0.05,"ey":0.08},{"p":"c","k":"c","x":1.76,"y":1.06,"ex":0.05,"ey":0.08},{"p":"c","k":"c","x":1.72,"y":1.07,"ex":0.05,"ey":0.08},{"p":"c","k":"c","x":1.67,"y":1.12,"ex":0.05,"ey":0.08},{"p":"c","k":"c","x":1.59,"y":1.2,"ex":0.05,"ey":0.09},{"p":"c","k":"c","x":1.5,"y":1.11,"ex":0.05,"ey":0.09},{"p":"c","k":"c","x":1.7,"y":1.29,"ex":0.05,"ey":0.08},{"p":"c","k":"c","x":1.64,"y":1.41,"ex":0.05,"ey":0.08},{"p":"c","k":"c","x":1.66,"y":1.51,"ex":0.05,"ey":0.09},{"p":"c","k":"c","x":1.71,"y":1.44,"ex":0.05,"ey":0.08},{"p":"c","k":"c","x":1.76,"y":1.39,"ex":0.05,"ey":0.08},{"p":"c","k":"c","x":1.82,"y":1.38,"ex":0.05,"ey":0.08},{"p":"c","k":"c","x":2.22,"y":1.34,"ex":0.05,"ey":0.09},{"p":"c","k":"c","x":1.84,"y":1.36,"ex":0.05,"ey":0.08},{"p":"c","k":"c","x":1.87,"y":1.38,"ex":0.05,"ey":0.08},
{"p":"c","k":"d","x":1.66,"y":1.04,"ex":0,"ey":0},
{"p":"d","k":"b","x":2.35,"y":1.99,"ex":0.05,"ey":0.09},{"p":"d","k":"b","x":2.33,"y":1.82,"ex":0.05,"ey":0.08},{"p":"d","k":"b","x":2.24,"y":1.82,"ex":0.05,"ey":0.08},{"p":"d","k":"b","x":2.25,"y":1.65,"ex":0.05,"ey":0.08},{"p":"d","k":"b","x":2.22,"y":1.6,"ex":0.06,"ey":0.08},{"p":"d","k":"b","x":2.26,"y":1.48,"ex":0.05,"ey":0.09},{"p":"d","k":"b","x":2.14,"y":1.79,"ex":0.06,"ey":0.08},{"p":"d","k":"b","x":2.17,"y":1.67,"ex":0.06,"ey":0.08},{"p":"d","k":"b","x":1.93,"y":1.69,"ex":0.07,"ey":0.09},{"p":"d","k":"b","x":1.88,"y":1.67,"ex":0.07,"ey":0.08},{"p":"d","k":"b","x":1.79,"y":1.69,"ex":0.08,"ey":0.09},{"p":"d","k":"b","x":1.81,"y":1.57,"ex":0.08,"ey":0.09},{"p":"d","k":"b","x":1.96,"y":1.6,"ex":0.07,"ey":0.08},{"p":"d","k":"b","x":2.01,"y":1.61,"ex":0.06,"ey":0.08},{"p":"d","k":"b","x":1.97,"y":1.58,"ex":0.07,"ey":0.09},{"p":"d","k":"b","x":1.4,"y":1.55,"ex":0.1,"ey":0.09},{"p":"d","k":"b","x":1.07,"y":1.04,"ex":0.15,"ey":0.1},{"p":"d","k":"b","x":1.35,"y":1.1,"ex":0.1,"ey":0.09},{"p":"d","k":"b","x":1.39,"y":1.14,"ex":0.11,"ey":0.1},{"p":"d","k":"b","x":1.43,"y":1.07,"ex":0.09,"ey":0.09},{"p":"d","k":"b","x":1.5,"y":0.98,"ex":0.12,"ey":0.1},{"p":"d","k":"b","x":1.4,"y":0.85,"ex":0.09,"ey":0.1},{"p":"d","k":"b","x":1.54,"y":1.38,"ex":0.09,"ey":0.09},{"p":"d","k":"b","x":1.57,"y":1.33,"ex":0.1,"ey":0.09},{"p":"d","k":"b","x":1.62,"y":1.38,"ex":0.09,"ey":0.09},{"p":"d","k":"b","x":1.68,"y":1.38,"ex":0.08,"ey":0.09},{"p":"d","k":"b","x":1.74,"y":1.38,"ex":0.08,"ey":0.08},{"p":"d","k":"b","x":1.8,"y":1.41,"ex":0.08,"ey":0.09},{"p":"d","k":"b","x":1.84,"y":1.48,"ex":0.07,"ey":0.09},{"p":"d","k":"b","x":1.88,"y":1.49,"ex":0.07,"ey":0.08},{"p":"d","k":"b","x":1.93,"y":1.43,"ex":0.08,"ey":0.09},{"p":"d","k":"b","x":1.99,"y":1.41,"ex":0.07,"ey":0.08},{"p":"d","k":"b","x":2.01,"y":1.38,"ex":0.07,"ey":0.09},{"p":"d","k":"b","x":2.04,"y":1.36,"ex":0.06,"ey":0.08},{"p":"d","k":"b","x":2.1,"y":1.46,"ex":0.06,"ey":0.08},{"p":"d","k":"b","x":2.06,"y":1.5,"ex":0.06,"ey":0.09},{"p":"d","k":"b","x":1.93,"y":1.29,"ex":0.08,"ey":0.09},{"p":"d","k":"b","x":1.99,"y":1.31,"ex":0.07,"ey":0.09},{"p":"d","k":"b","x":1.96,"y":1.22,"ex":0.07,"ey":0.08},{"p":"d","k":"b","x":1.93,"y":1.1,"ex":0.07,"ey":0.09},{"p":"d","k":"b","x":1.93,"y":1.2,"ex":0.08,"ey":0.09},{"p":"d","k":"b","x":1.97,"y":1.16,"ex":0.07,"ey":0.09},{"p":"d","k":"b","x":1.83,"y":1.14,"ex":0.08,"ey":0.09},{"p":"d","k":"b","x":1.74,"y":1.1,"ex":0.08,"ey":0.09},{"p":"d","k":"b","x":1.72,"y":1,"ex":0.09,"ey":0.09},{"p":"d","k":"b","x":1.75,"y":1.01,"ex":0.08,"ey":0.09},{"p":"d","k":"b","x":1.68,"y":0.98,"ex":0.09,"ey":0.1},{"p":"d","k":"b","x":1.62,"y":1.03,"ex":0.1,"ey":0.09},{"p":"d","k":"b","x":1.61,"y":1.17,"ex":0.09,"ey":0.09},{"p":"d","k":"b","x":1.58,"y":1.31,"ex":0.1,"ey":0.09},{"p":"d","k":"b","x":1.66,"y":1.26,"ex":0.09,"ey":0.09},{"p":"d","k":"b","x":1.93,"y":0.95,"ex":0.06,"ey":0.09},{"p":"d","k":"b","x":1.78,"y":0.84,"ex":0.07,"ey":0.1},{"p":"d","k":"b","x":1.78,"y":1,"ex":0.08,"ey":0.09},{"p":"d","k":"b","x":1.87,"y":1.24,"ex":0.08,"ey":0.09},{"p":"d","k":"b","x":2.01,"y":1.6,"ex":0.06,"ey":0.08},{"p":"d","k":"b","x":2.1,"y":1.71,"ex":0.06,"ey":0.08},{"p":"d","k":"b","x":2.13,"y":1.62,"ex":0.06,"ey":0.08},
{"p":"d","k":"c","x":2.14,"y":1.78,"ex":0.05,"ey":0.08},{"p":"d","k":"c","x":2.19,"y":1.74,"ex":0.05,"ey":0.08},{"p":"d","k":"c","x":2.07,"y":1.7,"ex":0.05,"ey":0.08},{"p":"d","k":"c","x":2.08,"y":1.63,"ex":0.05,"ey":0.08},{"p":"d","k":"c","x":2.06,"y":1.52,"ex":0.05,"ey":0.08},{"p":"d","k":"c","x":2.07,"y":1.46,"ex":0.05,"ey":0.09},{"p":"d","k":"c","x":1.98,"y":1.54,"ex":0.05,"ey":0.08},{"p":"d","k":"c","x":1.93,"y":1.46,"ex":0.05,"ey":0.08},{"p":"d","k":"c","x":1.91,"y":1.38,"ex":0.05,"ey":0.08},{"p":"d","k":"c","x":1.87,"y":1.33,"ex":0.05,"ey":0.08},{"p":"d","k":"c","x":1.91,"y":1.31,"ex":0.05,"ey":0.08},{"p":"d","k":"c","x":1.96,"y":1.25,"ex":0.05,"ey":0.08},{"p":"d","k":"c","x":1.86,"y":1.24,"ex":0.05,"ey":0.08},{"p":"d","k":"c","x":1.8,"y":1.2,"ex":0.05,"ey":0.09},{"p":"d","k":"c","x":1.69,"y":1.27,"ex":0.05,"ey":0.08},{"p":"d","k":"c","x":1.63,"y":1.35,"ex":0.05,"ey":0.08},{"p":"d","k":"c","x":1.66,"y":1.44,"ex":0.05,"ey":0.09},{"p":"d","k":"c","x":1.74,"y":1.44,"ex":0.05,"ey":0.08},{"p":"d","k":"c","x":1.81,"y":1.41,"ex":0.05,"ey":0.08},{"p":"d","k":"c","x":1.7,"y":1.38,"ex":0.05,"ey":0.08},{"p":"d","k":"c","x":1.58,"y":1.15,"ex":0.05,"ey":0.09},{"p":"d","k":"c","x":1.49,"y":1.16,"ex":0.05,"ey":0.08},{"p":"d","k":"c","x":1.66,"y":1.12,"ex":0.05,"ey":0.08},{"p":"d","k":"c","x":1.69,"y":1.1,"ex":0.05,"ey":0.08},{"p":"d","k":"c","x":1.72,"y":1.11,"ex":0.05,"ey":0.08},{"p":"d","k":"c","x":1.77,"y":1.04,"ex":0.05,"ey":0.08},{"p":"d","k":"c","x":1.8,"y":0.93,"ex":0.05,"ey":0.09},{"p":"d","k":"c","x":1.9,"y":1.02,"ex":0.05,"ey":0.09},{"p":"d","k":"c","x":2.2,"y":1.41,"ex":0.05,"ey":0.09},{"p":"d","k":"c","x":1.94,"y":1.41,"ex":0.05,"ey":0.08},{"p":"d","k":"c","x":1.93,"y":1.36,"ex":0.05,"ey":0.08},{"p":"d","k":"c","x":2.07,"y":1.45,"ex":0.05,"ey":0.08},
{"p":"d","k":"d","x":1.65,"y":1.03,"ex":0,"ey":0}]
},
"concat":[
{"width":478,"height":505,"resolve":{"axis":{"x":"independent","y":"independent"}},
"layer":[
{"data":{"name":"cont"},"transform":[{"filter":"datum.p=='a'"}],"mark":{"type":"line","color":"#999999","strokeWidth":1.5,"clip":true},
"encoding":{"x":{"field":"x","type":"quantitative","scale":{"domain":[0.5,2.6],"nice":false,"zero":false},"axis":{"orient":"bottom","values":[0.5,1,1.5,2,2.5],"tickSize":-11,"labels":false,"title":null}},
"y":{"field":"y","type":"quantitative","scale":{"domain":[-1,2.6],"nice":false,"zero":false},"axis":{"orient":"left","values":[-1,-0.5,0,0.5,1,1.5,2,2.5],"tickSize":-11,"format":".1f","labelFont":"DejaVu Sans","labelFontSize":21,"labelPadding":12,"labelOffset":{"condition":{"test":"datum.value < -0.9","value":-8},"value":0},"title":"Log ΣSFR [M⊙ Gyr⁻¹ pc⁻²]","titlePadding":22}},
"detail":{"field":"g"},"order":{"field":"o","type":"quantitative"}}},
{"data":{"name":"eps"},"mark":{"type":"line","color":"#333333","strokeWidth":1,"strokeDash":[2,5],"clip":true},
"encoding":{"x":{"field":"x","type":"quantitative","scale":{"domain":[0.5,2.6],"nice":false,"zero":false},"axis":{"orient":"top","values":[0.5,1,1.5,2,2.5],"tickSize":-11,"labels":false,"title":null}},
"y":{"field":"y","type":"quantitative","scale":{"domain":[-1,2.6],"nice":false,"zero":false},"axis":{"orient":"right","values":[-1,-0.5,0,0.5,1,1.5,2,2.5],"tickSize":-11,"labels":false,"title":null}},
"detail":{"field":"l"}}},
{"data":{"name":"dm"},"transform":[{"filter":"datum.p=='a'"}],"mark":{"type":"point","shape":"diamond","filled":false,"color":"#999999","strokeWidth":1.5,"opacity":1},"encoding":{"x":{"field":"x","type":"quantitative","scale":{"domain":[0.5,2.6],"nice":false,"zero":false},"axis":null},"y":{"field":"y","type":"quantitative","scale":{"domain":[-1,2.6],"nice":false,"zero":false},"axis":null},"size":{"field":"s","type":"nominal","scale":{"domain":["L","M","S"],"range":[784,484,100]},"legend":null}}},
{"data":{"name":"pts"},"transform":[{"filter":"datum.p=='a' && datum.k=='b'"}],"mark":{"type":"errorbar","color":"#111111","thickness":1.3,"ticks":{"size":8}},"encoding":{"x":{"field":"x","type":"quantitative","scale":{"domain":[0.5,2.6],"nice":false,"zero":false},"axis":null},"xError":{"field":"ex"},"y":{"field":"y","type":"quantitative","scale":{"domain":[-1,2.6],"nice":false,"zero":false},"axis":null}}},
{"data":{"name":"pts"},"transform":[{"filter":"datum.p=='a' && datum.k=='b'"}],"mark":{"type":"errorbar","color":"#111111","thickness":1.3,"ticks":{"size":8}},"encoding":{"y":{"field":"y","type":"quantitative","scale":{"domain":[-1,2.6],"nice":false,"zero":false},"axis":null},"yError":{"field":"ey"},"x":{"field":"x","type":"quantitative","scale":{"domain":[0.5,2.6],"nice":false,"zero":false},"axis":null}}},
{"data":{"name":"pts"},"transform":[{"filter":"datum.p=='a' && datum.k=='b'"}],"mark":{"type":"circle","color":"#000000","size":25,"opacity":1},"encoding":{"x":{"field":"x","type":"quantitative","scale":{"domain":[0.5,2.6],"nice":false,"zero":false},"axis":null},"y":{"field":"y","type":"quantitative","scale":{"domain":[-1,2.6],"nice":false,"zero":false},"axis":null}}},
{"data":{"name":"pts"},"transform":[{"filter":"datum.p=='a' && datum.k=='c'"}],"mark":{"type":"errorbar","color":"#1f5ce8","thickness":1.6,"ticks":{"size":7}},"encoding":{"x":{"field":"x","type":"quantitative","scale":{"domain":[0.5,2.6],"nice":false,"zero":false},"axis":null},"xError":{"field":"ex"},"y":{"field":"y","type":"quantitative","scale":{"domain":[-1,2.6],"nice":false,"zero":false},"axis":null}}},
{"data":{"name":"pts"},"transform":[{"filter":"datum.p=='a' && datum.k=='c'"}],"mark":{"type":"errorbar","color":"#1f5ce8","thickness":1.6,"ticks":{"size":7}},"encoding":{"y":{"field":"y","type":"quantitative","scale":{"domain":[-1,2.6],"nice":false,"zero":false},"axis":null},"yError":{"field":"ey"},"x":{"field":"x","type":"quantitative","scale":{"domain":[0.5,2.6],"nice":false,"zero":false},"axis":null}}},
{"data":{"name":"pts"},"transform":[{"filter":"datum.p=='a' && datum.k=='c'"}],"mark":{"type":"circle","color":"#1f5ce8","size":40,"opacity":1},"encoding":{"x":{"field":"x","type":"quantitative","scale":{"domain":[0.5,2.6],"nice":false,"zero":false},"axis":null},"y":{"field":"y","type":"quantitative","scale":{"domain":[-1,2.6],"nice":false,"zero":false},"axis":null}}},
{"data":{"name":"pts"},"transform":[{"filter":"datum.p=='a' && datum.k=='d'"}],"mark":{"type":"circle","color":"#000000","size":120,"opacity":1},"encoding":{"x":{"field":"x","type":"quantitative","scale":{"domain":[0.5,2.6],"nice":false,"zero":false},"axis":null},"y":{"field":"y","type":"quantitative","scale":{"domain":[-1,2.6],"nice":false,"zero":false},"axis":null}}},
{"data":{"name":"txt"},"transform":[{"filter":"datum.p=='a' && datum.t=='m'"}],"mark":{"type":"text","align":"left","baseline":"alphabetic","font":"DejaVu Serif","fontSize":16,"color":"black"},"encoding":{"x":{"field":"x","type":"quantitative","scale":{"domain":[0.5,2.6],"nice":false,"zero":false},"axis":{"orient":"bottom","values":[0.6,0.7,0.8,0.9,1.1,1.2,1.3,1.4,1.6,1.7,1.8,1.9,2.1,2.2,2.3,2.4],"tickSize":-5,"labels":false,"domain":false,"title":null}},"y":{"field":"y","type":"quantitative","scale":{"domain":[-1,2.6],"nice":false,"zero":false},"axis":{"orient":"left","values":[-0.9,-0.8,-0.7,-0.6,-0.4,-0.3,-0.2,-0.1,0.1,0.2,0.3,0.4,0.6,0.7,0.8,0.9,1.1,1.2,1.3,1.4,1.6,1.7,1.8,1.9,2.1,2.2,2.3,2.4],"tickSize":-5,"labels":false,"domain":false,"title":null}},"text":{"field":"s"}}},
{"data":{"name":"txt"},"transform":[{"filter":"datum.p=='a' && datum.t=='e'"}],"mark":{"type":"text","align":"left","baseline":"alphabetic","font":"DejaVu Serif","fontSize":15,"color":"black"},"encoding":{"x":{"field":"x","type":"quantitative","scale":{"domain":[0.5,2.6],"nice":false,"zero":false},"axis":null},"y":{"field":"y","type":"quantitative","scale":{"domain":[-1,2.6],"nice":false,"zero":false},"axis":null},"text":{"field":"s"}}},
{"data":{"name":"txt"},"transform":[{"filter":"datum.p=='a' && datum.t=='n'"}],"mark":{"type":"text","align":"left","baseline":"alphabetic","font":"DejaVu Sans","fontSize":16,"color":"black"},"encoding":{"x":{"field":"x","type":"quantitative","scale":{"domain":[0.5,2.6],"nice":false,"zero":false},"axis":{"orient":"top","values":[0.6,0.7,0.8,0.9,1.1,1.2,1.3,1.4,1.6,1.7,1.8,1.9,2.1,2.2,2.3,2.4],"tickSize":-5,"labels":false,"domain":false,"title":null}},"y":{"field":"y","type":"quantitative","scale":{"domain":[-1,2.6],"nice":false,"zero":false},"axis":{"orient":"right","values":[-0.9,-0.8,-0.7,-0.6,-0.4,-0.3,-0.2,-0.1,0.1,0.2,0.3,0.4,0.6,0.7,0.8,0.9,1.1,1.2,1.3,1.4,1.6,1.7,1.8,1.9,2.1,2.2,2.3,2.4],"tickSize":-5,"labels":false,"domain":false,"title":null}},"text":{"field":"s"}}},
{"data":{"name":"txt"},"transform":[{"filter":"datum.p=='a' && datum.t=='u'"}],"mark":{"type":"text","align":"left","baseline":"alphabetic","font":"DejaVu Sans","fontWeight":"bold","fontSize":8.5,"dy":4,"color":"black"},"encoding":{"x":{"field":"x","type":"quantitative","scale":{"domain":[0.5,2.6],"nice":false,"zero":false},"axis":null},"y":{"field":"y","type":"quantitative","scale":{"domain":[-1,2.6],"nice":false,"zero":false},"axis":null},"text":{"field":"s"}}}
]},
{"width":478,"height":505,"resolve":{"axis":{"x":"independent","y":"independent"}},
"layer":[
{"data":{"name":"cont"},"transform":[{"filter":"datum.p=='b'"}],"mark":{"type":"line","color":"#999999","strokeWidth":1.5,"clip":true},
"encoding":{"x":{"field":"x","type":"quantitative","scale":{"domain":[0.5,2.6],"nice":false,"zero":false},"axis":{"orient":"bottom","values":[0.5,1,1.5,2,2.5],"tickSize":-11,"labels":false,"title":null}},
"y":{"field":"y","type":"quantitative","scale":{"domain":[-1,2.6],"nice":false,"zero":false},"axis":{"orient":"left","values":[-1,-0.5,0,0.5,1,1.5,2,2.5],"tickSize":-11,"labels":false,"title":null}},
"detail":{"field":"g"},"order":{"field":"o","type":"quantitative"}}},
{"data":{"name":"eps"},"mark":{"type":"line","color":"#333333","strokeWidth":1,"strokeDash":[2,5],"clip":true},
"encoding":{"x":{"field":"x","type":"quantitative","scale":{"domain":[0.5,2.6],"nice":false,"zero":false},"axis":{"orient":"top","values":[0.5,1,1.5,2,2.5],"tickSize":-11,"labels":false,"title":null}},
"y":{"field":"y","type":"quantitative","scale":{"domain":[-1,2.6],"nice":false,"zero":false},"axis":{"orient":"right","values":[-1,-0.5,0,0.5,1,1.5,2,2.5],"tickSize":-11,"labels":false,"title":null}},
"detail":{"field":"l"}}},
{"data":{"name":"dm"},"transform":[{"filter":"datum.p=='b'"}],"mark":{"type":"point","shape":"diamond","filled":false,"color":"#999999","strokeWidth":1.5,"opacity":1},"encoding":{"x":{"field":"x","type":"quantitative","scale":{"domain":[0.5,2.6],"nice":false,"zero":false},"axis":null},"y":{"field":"y","type":"quantitative","scale":{"domain":[-1,2.6],"nice":false,"zero":false},"axis":null},"size":{"field":"s","type":"nominal","scale":{"domain":["L","M","S"],"range":[784,484,100]},"legend":null}}},
{"data":{"name":"pts"},"transform":[{"filter":"datum.p=='b' && datum.k=='b'"}],"mark":{"type":"errorbar","color":"#111111","thickness":1.3,"ticks":{"size":8}},"encoding":{"x":{"field":"x","type":"quantitative","scale":{"domain":[0.5,2.6],"nice":false,"zero":false},"axis":null},"xError":{"field":"ex"},"y":{"field":"y","type":"quantitative","scale":{"domain":[-1,2.6],"nice":false,"zero":false},"axis":null}}},
{"data":{"name":"pts"},"transform":[{"filter":"datum.p=='b' && datum.k=='b'"}],"mark":{"type":"errorbar","color":"#111111","thickness":1.3,"ticks":{"size":8}},"encoding":{"y":{"field":"y","type":"quantitative","scale":{"domain":[-1,2.6],"nice":false,"zero":false},"axis":null},"yError":{"field":"ey"},"x":{"field":"x","type":"quantitative","scale":{"domain":[0.5,2.6],"nice":false,"zero":false},"axis":null}}},
{"data":{"name":"pts"},"transform":[{"filter":"datum.p=='b' && datum.k=='b'"}],"mark":{"type":"circle","color":"#000000","size":25,"opacity":1},"encoding":{"x":{"field":"x","type":"quantitative","scale":{"domain":[0.5,2.6],"nice":false,"zero":false},"axis":null},"y":{"field":"y","type":"quantitative","scale":{"domain":[-1,2.6],"nice":false,"zero":false},"axis":null}}},
{"data":{"name":"pts"},"transform":[{"filter":"datum.p=='b' && datum.k=='c'"}],"mark":{"type":"errorbar","color":"#22e622","thickness":1.6,"ticks":{"size":7}},"encoding":{"x":{"field":"x","type":"quantitative","scale":{"domain":[0.5,2.6],"nice":false,"zero":false},"axis":null},"xError":{"field":"ex"},"y":{"field":"y","type":"quantitative","scale":{"domain":[-1,2.6],"nice":false,"zero":false},"axis":null}}},
{"data":{"name":"pts"},"transform":[{"filter":"datum.p=='b' && datum.k=='c'"}],"mark":{"type":"errorbar","color":"#22e622","thickness":1.6,"ticks":{"size":7}},"encoding":{"y":{"field":"y","type":"quantitative","scale":{"domain":[-1,2.6],"nice":false,"zero":false},"axis":null},"yError":{"field":"ey"},"x":{"field":"x","type":"quantitative","scale":{"domain":[0.5,2.6],"nice":false,"zero":false},"axis":null}}},
{"data":{"name":"pts"},"transform":[{"filter":"datum.p=='b' && datum.k=='c'"}],"mark":{"type":"circle","color":"#22e622","size":40,"opacity":1},"encoding":{"x":{"field":"x","type":"quantitative","scale":{"domain":[0.5,2.6],"nice":false,"zero":false},"axis":null},"y":{"field":"y","type":"quantitative","scale":{"domain":[-1,2.6],"nice":false,"zero":false},"axis":null}}},
{"data":{"name":"pts"},"transform":[{"filter":"datum.p=='b' && datum.k=='d'"}],"mark":{"type":"circle","color":"#000000","size":120,"opacity":1},"encoding":{"x":{"field":"x","type":"quantitative","scale":{"domain":[0.5,2.6],"nice":false,"zero":false},"axis":null},"y":{"field":"y","type":"quantitative","scale":{"domain":[-1,2.6],"nice":false,"zero":false},"axis":null}}},
{"data":{"name":"txt"},"transform":[{"filter":"datum.p=='b' && datum.t=='m'"}],"mark":{"type":"text","align":"left","baseline":"alphabetic","font":"DejaVu Serif","fontSize":16,"color":"black"},"encoding":{"x":{"field":"x","type":"quantitative","scale":{"domain":[0.5,2.6],"nice":false,"zero":false},"axis":{"orient":"bottom","values":[0.6,0.7,0.8,0.9,1.1,1.2,1.3,1.4,1.6,1.7,1.8,1.9,2.1,2.2,2.3,2.4],"tickSize":-5,"labels":false,"domain":false,"title":null}},"y":{"field":"y","type":"quantitative","scale":{"domain":[-1,2.6],"nice":false,"zero":false},"axis":{"orient":"left","values":[-0.9,-0.8,-0.7,-0.6,-0.4,-0.3,-0.2,-0.1,0.1,0.2,0.3,0.4,0.6,0.7,0.8,0.9,1.1,1.2,1.3,1.4,1.6,1.7,1.8,1.9,2.1,2.2,2.3,2.4],"tickSize":-5,"labels":false,"domain":false,"title":null}},"text":{"field":"s"}}},
{"data":{"name":"txt"},"transform":[{"filter":"datum.p=='b' && datum.t=='n'"}],"mark":{"type":"text","align":"left","baseline":"alphabetic","font":"DejaVu Sans","fontSize":16,"color":"black"},"encoding":{"x":{"field":"x","type":"quantitative","scale":{"domain":[0.5,2.6],"nice":false,"zero":false},"axis":{"orient":"top","values":[0.6,0.7,0.8,0.9,1.1,1.2,1.3,1.4,1.6,1.7,1.8,1.9,2.1,2.2,2.3,2.4],"tickSize":-5,"labels":false,"domain":false,"title":null}},"y":{"field":"y","type":"quantitative","scale":{"domain":[-1,2.6],"nice":false,"zero":false},"axis":{"orient":"right","values":[-0.9,-0.8,-0.7,-0.6,-0.4,-0.3,-0.2,-0.1,0.1,0.2,0.3,0.4,0.6,0.7,0.8,0.9,1.1,1.2,1.3,1.4,1.6,1.7,1.8,1.9,2.1,2.2,2.3,2.4],"tickSize":-5,"labels":false,"domain":false,"title":null}},"text":{"field":"s"}}},
{"data":{"name":"txt"},"transform":[{"filter":"datum.p=='b' && datum.t=='u'"}],"mark":{"type":"text","align":"left","baseline":"alphabetic","font":"DejaVu Sans","fontWeight":"bold","fontSize":8.5,"dy":4,"color":"black"},"encoding":{"x":{"field":"x","type":"quantitative","scale":{"domain":[0.5,2.6],"nice":false,"zero":false},"axis":null},"y":{"field":"y","type":"quantitative","scale":{"domain":[-1,2.6],"nice":false,"zero":false},"axis":null},"text":{"field":"s"}}},
{"data":{"name":"txt"},"transform":[{"filter":"datum.p=='b' && datum.t=='g'"}],"mark":{"type":"text","align":"left","baseline":"alphabetic","font":"DejaVu Serif","fontStyle":"italic","fontSize":11,"dy":4,"color":"black"},"encoding":{"x":{"field":"x","type":"quantitative","scale":{"domain":[0.5,2.6],"nice":false,"zero":false},"axis":null},"y":{"field":"y","type":"quantitative","scale":{"domain":[-1,2.6],"nice":false,"zero":false},"axis":null},"text":{"field":"s"}}}
]},
{"width":478,"height":505,"resolve":{"axis":{"x":"independent","y":"independent"}},
"layer":[
{"data":{"name":"cont"},"transform":[{"filter":"datum.p=='c'"}],"mark":{"type":"line","color":"#999999","strokeWidth":1.5,"clip":true},
"encoding":{"x":{"field":"x","type":"quantitative","scale":{"domain":[0.5,2.6],"nice":false,"zero":false},"axis":{"orient":"bottom","values":[0.5,1,1.5,2,2.5],"tickSize":-11,"format":".1f","labelFont":"DejaVu Sans","labelFontSize":21,"labelPadding":29,"title":"Log ΣH₂ [M⊙ pc⁻²]","titleX":478,"titleY":61,"titleAlign":"center","titleBaseline":"alphabetic"}},
"y":{"field":"y","type":"quantitative","scale":{"domain":[-1,2.6],"nice":false,"zero":false},"axis":{"orient":"left","values":[-1,-0.5,0,0.5,1,1.5,2,2.5],"tickSize":-11,"format":".1f","labelFont":"DejaVu Sans","labelFontSize":21,"labelPadding":12,"labelOffset":{"condition":{"test":"datum.value < -0.9","value":-8},"value":0},"title":"Log ΣSFR [M⊙ Gyr⁻¹ pc⁻²]","titlePadding":22}},
"detail":{"field":"g"},"order":{"field":"o","type":"quantitative"}}},
{"data":{"name":"eps"},"mark":{"type":"line","color":"#333333","strokeWidth":1,"strokeDash":[2,5],"clip":true},
"encoding":{"x":{"field":"x","type":"quantitative","scale":{"domain":[0.5,2.6],"nice":false,"zero":false},"axis":{"orient":"top","values":[0.5,1,1.5,2,2.5],"tickSize":-11,"labels":false,"title":null}},
"y":{"field":"y","type":"quantitative","scale":{"domain":[-1,2.6],"nice":false,"zero":false},"axis":{"orient":"right","values":[-1,-0.5,0,0.5,1,1.5,2,2.5],"tickSize":-11,"labels":false,"title":null}},
"detail":{"field":"l"}}},
{"data":{"name":"dm"},"transform":[{"filter":"datum.p=='c'"}],"mark":{"type":"point","shape":"diamond","filled":false,"color":"#999999","strokeWidth":1.5,"opacity":1},"encoding":{"x":{"field":"x","type":"quantitative","scale":{"domain":[0.5,2.6],"nice":false,"zero":false},"axis":null},"y":{"field":"y","type":"quantitative","scale":{"domain":[-1,2.6],"nice":false,"zero":false},"axis":null},"size":{"field":"s","type":"nominal","scale":{"domain":["L","M","S"],"range":[784,484,100]},"legend":null}}},
{"data":{"name":"pts"},"transform":[{"filter":"datum.p=='c' && datum.k=='b'"}],"mark":{"type":"errorbar","color":"#111111","thickness":1.3,"ticks":{"size":8}},"encoding":{"x":{"field":"x","type":"quantitative","scale":{"domain":[0.5,2.6],"nice":false,"zero":false},"axis":null},"xError":{"field":"ex"},"y":{"field":"y","type":"quantitative","scale":{"domain":[-1,2.6],"nice":false,"zero":false},"axis":null}}},
{"data":{"name":"pts"},"transform":[{"filter":"datum.p=='c' && datum.k=='b'"}],"mark":{"type":"errorbar","color":"#111111","thickness":1.3,"ticks":{"size":8}},"encoding":{"y":{"field":"y","type":"quantitative","scale":{"domain":[-1,2.6],"nice":false,"zero":false},"axis":null},"yError":{"field":"ey"},"x":{"field":"x","type":"quantitative","scale":{"domain":[0.5,2.6],"nice":false,"zero":false},"axis":null}}},
{"data":{"name":"pts"},"transform":[{"filter":"datum.p=='c' && datum.k=='b'"}],"mark":{"type":"circle","color":"#000000","size":25,"opacity":1},"encoding":{"x":{"field":"x","type":"quantitative","scale":{"domain":[0.5,2.6],"nice":false,"zero":false},"axis":null},"y":{"field":"y","type":"quantitative","scale":{"domain":[-1,2.6],"nice":false,"zero":false},"axis":null}}},
{"data":{"name":"pts"},"transform":[{"filter":"datum.p=='c' && datum.k=='c'"}],"mark":{"type":"errorbar","color":"#ffa500","thickness":1.6,"ticks":{"size":7}},"encoding":{"x":{"field":"x","type":"quantitative","scale":{"domain":[0.5,2.6],"nice":false,"zero":false},"axis":null},"xError":{"field":"ex"},"y":{"field":"y","type":"quantitative","scale":{"domain":[-1,2.6],"nice":false,"zero":false},"axis":null}}},
{"data":{"name":"pts"},"transform":[{"filter":"datum.p=='c' && datum.k=='c'"}],"mark":{"type":"errorbar","color":"#ffa500","thickness":1.6,"ticks":{"size":7}},"encoding":{"y":{"field":"y","type":"quantitative","scale":{"domain":[-1,2.6],"nice":false,"zero":false},"axis":null},"yError":{"field":"ey"},"x":{"field":"x","type":"quantitative","scale":{"domain":[0.5,2.6],"nice":false,"zero":false},"axis":null}}},
{"data":{"name":"pts"},"transform":[{"filter":"datum.p=='c' && datum.k=='c'"}],"mark":{"type":"circle","color":"#ffa500","size":40,"opacity":1},"encoding":{"x":{"field":"x","type":"quantitative","scale":{"domain":[0.5,2.6],"nice":false,"zero":false},"axis":null},"y":{"field":"y","type":"quantitative","scale":{"domain":[-1,2.6],"nice":false,"zero":false},"axis":null}}},
{"data":{"name":"pts"},"transform":[{"filter":"datum.p=='c' && datum.k=='d'"}],"mark":{"type":"circle","color":"#000000","size":120,"opacity":1},"encoding":{"x":{"field":"x","type":"quantitative","scale":{"domain":[0.5,2.6],"nice":false,"zero":false},"axis":null},"y":{"field":"y","type":"quantitative","scale":{"domain":[-1,2.6],"nice":false,"zero":false},"axis":null}}},
{"data":{"name":"txt"},"transform":[{"filter":"datum.p=='c' && datum.t=='m'"}],"mark":{"type":"text","align":"left","baseline":"alphabetic","font":"DejaVu Serif","fontSize":16,"color":"black"},"encoding":{"x":{"field":"x","type":"quantitative","scale":{"domain":[0.5,2.6],"nice":false,"zero":false},"axis":{"orient":"bottom","values":[0.6,0.7,0.8,0.9,1.1,1.2,1.3,1.4,1.6,1.7,1.8,1.9,2.1,2.2,2.3,2.4],"tickSize":-5,"labels":false,"domain":false,"title":null}},"y":{"field":"y","type":"quantitative","scale":{"domain":[-1,2.6],"nice":false,"zero":false},"axis":{"orient":"left","values":[-0.9,-0.8,-0.7,-0.6,-0.4,-0.3,-0.2,-0.1,0.1,0.2,0.3,0.4,0.6,0.7,0.8,0.9,1.1,1.2,1.3,1.4,1.6,1.7,1.8,1.9,2.1,2.2,2.3,2.4],"tickSize":-5,"labels":false,"domain":false,"title":null}},"text":{"field":"s"}}},
{"data":{"name":"txt"},"transform":[{"filter":"datum.p=='c' && datum.t=='e'"}],"mark":{"type":"text","align":"left","baseline":"alphabetic","font":"DejaVu Serif","fontSize":15,"color":"black"},"encoding":{"x":{"field":"x","type":"quantitative","scale":{"domain":[0.5,2.6],"nice":false,"zero":false},"axis":null},"y":{"field":"y","type":"quantitative","scale":{"domain":[-1,2.6],"nice":false,"zero":false},"axis":null},"text":{"field":"s"}}},
{"data":{"name":"txt"},"transform":[{"filter":"datum.p=='c' && datum.t=='n'"}],"mark":{"type":"text","align":"left","baseline":"alphabetic","font":"DejaVu Sans","fontSize":16,"color":"black"},"encoding":{"x":{"field":"x","type":"quantitative","scale":{"domain":[0.5,2.6],"nice":false,"zero":false},"axis":{"orient":"top","values":[0.6,0.7,0.8,0.9,1.1,1.2,1.3,1.4,1.6,1.7,1.8,1.9,2.1,2.2,2.3,2.4],"tickSize":-5,"labels":false,"domain":false,"title":null}},"y":{"field":"y","type":"quantitative","scale":{"domain":[-1,2.6],"nice":false,"zero":false},"axis":{"orient":"right","values":[-0.9,-0.8,-0.7,-0.6,-0.4,-0.3,-0.2,-0.1,0.1,0.2,0.3,0.4,0.6,0.7,0.8,0.9,1.1,1.2,1.3,1.4,1.6,1.7,1.8,1.9,2.1,2.2,2.3,2.4],"tickSize":-5,"labels":false,"domain":false,"title":null}},"text":{"field":"s"}}},
{"data":{"name":"txt"},"transform":[{"filter":"datum.p=='c' && datum.t=='u'"}],"mark":{"type":"text","align":"left","baseline":"alphabetic","font":"DejaVu Sans","fontWeight":"bold","fontSize":8.5,"dy":4,"color":"black"},"encoding":{"x":{"field":"x","type":"quantitative","scale":{"domain":[0.5,2.6],"nice":false,"zero":false},"axis":null},"y":{"field":"y","type":"quantitative","scale":{"domain":[-1,2.6],"nice":false,"zero":false},"axis":null},"text":{"field":"s"}}},
{"data":{"name":"txt"},"transform":[{"filter":"datum.p=='c' && datum.t=='g'"}],"mark":{"type":"text","align":"left","baseline":"alphabetic","font":"DejaVu Serif","fontStyle":"italic","fontSize":11,"dy":4,"color":"black"},"encoding":{"x":{"field":"x","type":"quantitative","scale":{"domain":[0.5,2.6],"nice":false,"zero":false},"axis":null},"y":{"field":"y","type":"quantitative","scale":{"domain":[-1,2.6],"nice":false,"zero":false},"axis":null},"text":{"field":"s"}}}
]},
{"width":478,"height":505,"resolve":{"axis":{"x":"independent","y":"independent"}},
"layer":[
{"data":{"name":"cont"},"transform":[{"filter":"datum.p=='d'"}],"mark":{"type":"line","color":"#999999","strokeWidth":1.5,"clip":true},
"encoding":{"x":{"field":"x","type":"quantitative","scale":{"domain":[0.5,2.6],"nice":false,"zero":false},"axis":{"orient":"bottom","values":[0.5,1,1.5,2,2.5],"tickSize":-11,"labelExpr":"datum.value > 0.7 ? format(datum.value,'.1f') : ''","labelFont":"DejaVu Sans","labelFontSize":21,"labelPadding":29,"title":null}},
"y":{"field":"y","type":"quantitative","scale":{"domain":[-1,2.6],"nice":false,"zero":false},"axis":{"orient":"left","values":[-1,-0.5,0,0.5,1,1.5,2,2.5],"tickSize":-11,"labels":false,"title":null}},
"detail":{"field":"g"},"order":{"field":"o","type":"quantitative"}}},
{"data":{"name":"eps"},"mark":{"type":"line","color":"#333333","strokeWidth":1,"strokeDash":[2,5],"clip":true},
"encoding":{"x":{"field":"x","type":"quantitative","scale":{"domain":[0.5,2.6],"nice":false,"zero":false},"axis":{"orient":"top","values":[0.5,1,1.5,2,2.5],"tickSize":-11,"labels":false,"title":null}},
"y":{"field":"y","type":"quantitative","scale":{"domain":[-1,2.6],"nice":false,"zero":false},"axis":{"orient":"right","values":[-1,-0.5,0,0.5,1,1.5,2,2.5],"tickSize":-11,"labels":false,"title":null}},
"detail":{"field":"l"}}},
{"data":{"name":"dm"},"transform":[{"filter":"datum.p=='d'"}],"mark":{"type":"point","shape":"diamond","filled":false,"color":"#999999","strokeWidth":1.5,"opacity":1},"encoding":{"x":{"field":"x","type":"quantitative","scale":{"domain":[0.5,2.6],"nice":false,"zero":false},"axis":null},"y":{"field":"y","type":"quantitative","scale":{"domain":[-1,2.6],"nice":false,"zero":false},"axis":null},"size":{"field":"s","type":"nominal","scale":{"domain":["L","M","S"],"range":[784,484,100]},"legend":null}}},
{"data":{"name":"pts"},"transform":[{"filter":"datum.p=='d' && datum.k=='b'"}],"mark":{"type":"errorbar","color":"#111111","thickness":1.3,"ticks":{"size":8}},"encoding":{"x":{"field":"x","type":"quantitative","scale":{"domain":[0.5,2.6],"nice":false,"zero":false},"axis":null},"xError":{"field":"ex"},"y":{"field":"y","type":"quantitative","scale":{"domain":[-1,2.6],"nice":false,"zero":false},"axis":null}}},
{"data":{"name":"pts"},"transform":[{"filter":"datum.p=='d' && datum.k=='b'"}],"mark":{"type":"errorbar","color":"#111111","thickness":1.3,"ticks":{"size":8}},"encoding":{"y":{"field":"y","type":"quantitative","scale":{"domain":[-1,2.6],"nice":false,"zero":false},"axis":null},"yError":{"field":"ey"},"x":{"field":"x","type":"quantitative","scale":{"domain":[0.5,2.6],"nice":false,"zero":false},"axis":null}}},
{"data":{"name":"pts"},"transform":[{"filter":"datum.p=='d' && datum.k=='b'"}],"mark":{"type":"circle","color":"#000000","size":25,"opacity":1},"encoding":{"x":{"field":"x","type":"quantitative","scale":{"domain":[0.5,2.6],"nice":false,"zero":false},"axis":null},"y":{"field":"y","type":"quantitative","scale":{"domain":[-1,2.6],"nice":false,"zero":false},"axis":null}}},
{"data":{"name":"pts"},"transform":[{"filter":"datum.p=='d' && datum.k=='c'"}],"mark":{"type":"errorbar","color":"#f01414","thickness":1.6,"ticks":{"size":7}},"encoding":{"x":{"field":"x","type":"quantitative","scale":{"domain":[0.5,2.6],"nice":false,"zero":false},"axis":null},"xError":{"field":"ex"},"y":{"field":"y","type":"quantitative","scale":{"domain":[-1,2.6],"nice":false,"zero":false},"axis":null}}},
{"data":{"name":"pts"},"transform":[{"filter":"datum.p=='d' && datum.k=='c'"}],"mark":{"type":"errorbar","color":"#f01414","thickness":1.6,"ticks":{"size":7}},"encoding":{"y":{"field":"y","type":"quantitative","scale":{"domain":[-1,2.6],"nice":false,"zero":false},"axis":null},"yError":{"field":"ey"},"x":{"field":"x","type":"quantitative","scale":{"domain":[0.5,2.6],"nice":false,"zero":false},"axis":null}}},
{"data":{"name":"pts"},"transform":[{"filter":"datum.p=='d' && datum.k=='c'"}],"mark":{"type":"circle","color":"#f01414","size":40,"opacity":1},"encoding":{"x":{"field":"x","type":"quantitative","scale":{"domain":[0.5,2.6],"nice":false,"zero":false},"axis":null},"y":{"field":"y","type":"quantitative","scale":{"domain":[-1,2.6],"nice":false,"zero":false},"axis":null}}},
{"data":{"name":"pts"},"transform":[{"filter":"datum.p=='d' && datum.k=='d'"}],"mark":{"type":"circle","color":"#000000","size":120,"opacity":1},"encoding":{"x":{"field":"x","type":"quantitative","scale":{"domain":[0.5,2.6],"nice":false,"zero":false},"axis":null},"y":{"field":"y","type":"quantitative","scale":{"domain":[-1,2.6],"nice":false,"zero":false},"axis":null}}},
{"data":{"name":"txt"},"transform":[{"filter":"datum.p=='d' && datum.t=='m'"}],"mark":{"type":"text","align":"left","baseline":"alphabetic","font":"DejaVu Serif","fontSize":16,"color":"black"},"encoding":{"x":{"field":"x","type":"quantitative","scale":{"domain":[0.5,2.6],"nice":false,"zero":false},"axis":{"orient":"bottom","values":[0.6,0.7,0.8,0.9,1.1,1.2,1.3,1.4,1.6,1.7,1.8,1.9,2.1,2.2,2.3,2.4],"tickSize":-5,"labels":false,"domain":false,"title":null}},"y":{"field":"y","type":"quantitative","scale":{"domain":[-1,2.6],"nice":false,"zero":false},"axis":{"orient":"left","values":[-0.9,-0.8,-0.7,-0.6,-0.4,-0.3,-0.2,-0.1,0.1,0.2,0.3,0.4,0.6,0.7,0.8,0.9,1.1,1.2,1.3,1.4,1.6,1.7,1.8,1.9,2.1,2.2,2.3,2.4],"tickSize":-5,"labels":false,"domain":false,"title":null}},"text":{"field":"s"}}},
{"data":{"name":"txt"},"transform":[{"filter":"datum.p=='d' && datum.t=='n'"}],"mark":{"type":"text","align":"left","baseline":"alphabetic","font":"DejaVu Sans","fontSize":16,"color":"black"},"encoding":{"x":{"field":"x","type":"quantitative","scale":{"domain":[0.5,2.6],"nice":false,"zero":false},"axis":{"orient":"top","values":[0.6,0.7,0.8,0.9,1.1,1.2,1.3,1.4,1.6,1.7,1.8,1.9,2.1,2.2,2.3,2.4],"tickSize":-5,"labels":false,"domain":false,"title":null}},"y":{"field":"y","type":"quantitative","scale":{"domain":[-1,2.6],"nice":false,"zero":false},"axis":{"orient":"right","values":[-0.9,-0.8,-0.7,-0.6,-0.4,-0.3,-0.2,-0.1,0.1,0.2,0.3,0.4,0.6,0.7,0.8,0.9,1.1,1.2,1.3,1.4,1.6,1.7,1.8,1.9,2.1,2.2,2.3,2.4],"tickSize":-5,"labels":false,"domain":false,"title":null}},"text":{"field":"s"}}},
{"data":{"name":"txt"},"transform":[{"filter":"datum.p=='d' && datum.t=='u'"}],"mark":{"type":"text","align":"left","baseline":"alphabetic","font":"DejaVu Sans","fontWeight":"bold","fontSize":8.5,"dy":4,"color":"black"},"encoding":{"x":{"field":"x","type":"quantitative","scale":{"domain":[0.5,2.6],"nice":false,"zero":false},"axis":null},"y":{"field":"y","type":"quantitative","scale":{"domain":[-1,2.6],"nice":false,"zero":false},"axis":null},"text":{"field":"s"}}}
]}
]
}
